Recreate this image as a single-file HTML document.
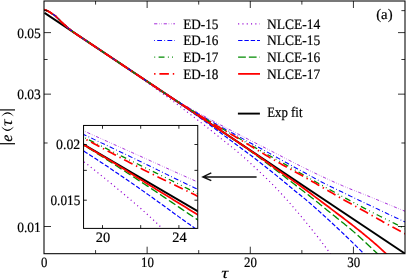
<!DOCTYPE html>
<html><head><meta charset="utf-8"><title>chart</title>
<style>
html,body{margin:0;padding:0;background:#fff;}
svg{display:block;will-change:transform;}
text{font-family:"Liberation Serif",serif;fill:#000;stroke:#000;stroke-width:0.2px;text-rendering:geometricPrecision;}
</style></head><body>
<svg width="407" height="279" viewBox="0 0 407 279">
<rect x="0" y="0" width="407" height="279" fill="#fff"/>
<defs>
<clipPath id="cm"><rect x="44.0" y="1.0" width="361.0" height="252.7"/></clipPath>
<clipPath id="ci"><rect x="83.55" y="125.45" width="114.2" height="102.95"/></clipPath>
</defs>
<g clip-path="url(#cm)">
<path d="M44.50,12.90 L407.00,254.94" stroke="#000" stroke-width="1.9" fill="none"/>
<path d="M44.00,9.52 L45.15,9.94 L46.31,10.39 L47.46,10.89 L48.62,11.47 L49.77,12.15 L50.93,12.92 L52.08,13.69 L53.24,14.46 L54.39,15.23 L55.55,16.12 L56.70,17.21 L57.86,18.36 L59.01,19.53 L60.17,20.76 L61.32,21.91 L62.48,22.98 L63.63,24.02 L64.79,25.04 L65.94,26.05 L67.10,27.06 L68.25,28.07 L69.41,29.05 L70.56,29.97 L71.72,30.85 L72.87,31.71 L74.03,32.56 L75.18,33.38 L76.34,34.16 L77.49,34.93 L78.65,35.70 L79.80,36.47 L80.96,37.24 L82.11,38.01 L83.27,38.78 L84.42,39.56 L85.58,40.33 L86.73,41.10 L87.89,41.87 L89.04,42.64 L90.20,43.41 L91.35,44.18 L92.51,44.95 L93.66,45.72 L94.81,46.50 L95.97,47.27 L97.12,48.04 L98.28,48.81 L99.43,49.58 L100.59,50.35 L101.74,51.12 L102.90,51.89 L104.05,52.66 L105.21,53.44 L106.36,54.21 L107.52,54.98 L108.67,55.75 L109.83,56.52 L110.98,57.29 L112.14,58.06 L113.29,58.83 L114.45,59.60 L115.60,60.38 L116.76,61.15 L117.91,61.92 L119.07,62.70 L120.22,63.49 L121.38,64.28 L122.53,65.07 L123.69,65.86 L124.84,66.66 L126.00,67.46 L127.15,68.27 L128.31,69.07 L129.46,69.88 L130.62,70.69 L131.77,71.50 L132.93,72.31 L134.08,73.12 L135.24,73.93 L136.39,74.74 L137.55,75.55 L138.70,76.37 L139.86,77.19 L141.01,78.02 L142.16,78.85 L143.32,79.68 L144.47,80.52 L145.63,81.35 L146.78,82.18 L147.94,83.01 L149.09,83.83 L150.25,84.66 L151.40,85.49 L152.56,86.31 L153.71,87.14 L154.87,87.97 L156.02,88.79 L157.18,89.62 L158.33,90.45 L159.49,91.27 L160.64,92.10 L161.80,92.92 L162.95,93.74 L164.11,94.57 L165.26,95.40 L166.42,96.23 L167.57,97.06 L168.73,97.91 L169.88,98.75 L171.04,99.61 L172.19,100.46 L173.35,101.33 L174.50,102.19 L175.66,103.06 L176.81,103.93 L177.97,104.80 L179.12,105.68 L180.28,106.57 L181.43,107.46 L182.59,108.36 L183.74,109.26 L184.90,110.16 L186.05,111.06 L187.21,111.96 L188.36,112.85 L189.52,113.74 L190.67,114.63 L191.82,115.52 L192.98,116.40 L194.13,117.29 L195.29,118.17 L196.44,119.06 L197.60,119.94 L198.75,120.83 L199.91,121.72 L201.06,122.61 L202.22,123.51 L203.37,124.41 L204.53,125.31 L205.68,126.22 L206.84,127.12 L207.99,128.04 L209.15,128.95 L210.30,129.87 L211.46,130.79 L212.61,131.72 L213.77,132.65 L214.92,133.58 L216.08,134.51 L217.23,135.44 L218.39,136.37 L219.54,137.30 L220.70,138.23 L221.85,139.15 L223.01,140.08 L224.16,141.00 L225.32,141.91 L226.47,142.83 L227.63,143.75 L228.78,144.67 L229.94,145.59 L231.09,146.52 L232.25,147.45 L233.40,148.38 L234.56,149.32 L235.71,150.26 L236.87,151.22 L238.02,152.18 L239.17,153.14 L240.33,154.12 L241.48,155.12 L242.64,156.13 L243.79,157.16 L244.95,158.21 L246.10,159.26 L247.26,160.32 L248.41,161.38 L249.57,162.44 L250.72,163.51 L251.88,164.57 L253.03,165.65 L254.19,166.72 L255.34,167.81 L256.50,168.90 L257.65,169.99 L258.81,171.08 L259.96,172.18 L261.12,173.28 L262.27,174.38 L263.43,175.49 L264.58,176.59 L265.74,177.70 L266.89,178.82 L268.05,179.94 L269.20,181.07 L270.36,182.22 L271.51,183.38 L272.67,184.55 L273.82,185.73 L274.98,186.92 L276.13,188.13 L277.29,189.34 L278.44,190.57 L279.60,191.80 L280.75,193.05 L281.91,194.30 L283.06,195.56 L284.22,196.84 L285.37,198.12 L286.53,199.41 L287.68,200.71 L288.83,202.02 L289.99,203.33 L291.14,204.66 L292.30,205.99 L293.45,207.32 L294.61,208.67 L295.76,210.02 L296.92,211.37 L298.07,212.73 L299.23,214.09 L300.38,215.46 L301.54,216.83 L302.69,218.22 L303.85,219.61 L305.00,221.02 L306.16,222.43 L307.31,223.84 L308.47,225.27 L309.62,226.71 L310.78,228.15 L311.93,229.59 L313.09,231.05 L314.24,232.51 L315.40,233.98 L316.55,235.45 L317.71,236.93 L318.86,238.42 L320.02,239.91 L321.17,241.41 L322.33,242.92 L323.48,244.44 L324.64,245.97 L325.79,247.51 L326.95,249.06 L328.10,250.63 L329.26,252.20 L330.41,253.79 L331.57,255.40 L332.72,257.02 L333.88,258.66 L335.03,260.31 L336.18,261.98 L337.34,263.67 L338.49,265.37 L339.65,267.08 L340.80,268.80 L341.96,270.54 L343.11,272.28" stroke="#9400D3" stroke-width="1.20" fill="none" stroke-dasharray="1.1 3.2"/>
<path d="M44.00,9.52 L45.27,9.99 L46.55,10.49 L47.82,11.06 L49.10,11.74 L50.37,12.55 L51.65,13.40 L52.92,14.25 L54.19,15.10 L55.47,16.05 L56.74,17.25 L58.02,18.52 L59.29,19.83 L60.57,21.17 L61.84,22.39 L63.12,23.56 L64.39,24.69 L65.66,25.81 L66.94,26.92 L68.21,28.04 L69.49,29.12 L70.76,30.12 L72.04,31.09 L73.31,32.04 L74.58,32.96 L75.86,33.84 L77.13,34.69 L78.41,35.54 L79.68,36.39 L80.96,37.24 L82.23,38.09 L83.50,38.94 L84.78,39.79 L86.05,40.65 L87.33,41.50 L88.60,42.35 L89.88,43.20 L91.15,44.05 L92.43,44.90 L93.70,45.75 L94.97,46.60 L96.25,47.45 L97.52,48.30 L98.80,49.15 L100.07,50.01 L101.35,50.86 L102.62,51.71 L103.89,52.56 L105.17,53.41 L106.44,54.26 L107.72,55.11 L108.99,55.96 L110.27,56.81 L111.54,57.66 L112.82,58.51 L114.09,59.36 L115.36,60.22 L116.64,61.07 L117.91,61.92 L119.19,62.77 L120.46,63.62 L121.74,64.47 L123.01,65.32 L124.28,66.17 L125.56,67.02 L126.83,67.87 L128.11,68.72 L129.38,69.58 L130.66,70.43 L131.93,71.28 L133.20,72.13 L134.48,72.98 L135.75,73.83 L137.03,74.68 L138.30,75.53 L139.58,76.38 L140.85,77.23 L142.13,78.08 L143.40,78.94 L144.67,79.79 L145.95,80.64 L147.22,81.49 L148.50,82.34 L149.77,83.19 L151.05,84.05 L152.32,84.90 L153.59,85.76 L154.87,86.62 L156.14,87.48 L157.42,88.34 L158.69,89.20 L159.97,90.06 L161.24,90.92 L162.51,91.79 L163.79,92.65 L165.06,93.52 L166.34,94.38 L167.61,95.25 L168.89,96.12 L170.16,96.99 L171.44,97.85 L172.71,98.72 L173.98,99.59 L175.26,100.46 L176.53,101.33 L177.81,102.20 L179.08,103.08 L180.36,103.95 L181.63,104.83 L182.90,105.72 L184.18,106.61 L185.45,107.50 L186.73,108.39 L188.00,109.29 L189.28,110.19 L190.55,111.09 L191.82,111.99 L193.10,112.90 L194.37,113.81 L195.65,114.72 L196.92,115.63 L198.20,116.54 L199.47,117.46 L200.75,118.37 L202.02,119.28 L203.29,120.20 L204.57,121.11 L205.84,122.03 L207.12,122.96 L208.39,123.89 L209.67,124.82 L210.94,125.76 L212.21,126.70 L213.49,127.64 L214.76,128.58 L216.04,129.52 L217.31,130.47 L218.59,131.41 L219.86,132.35 L221.13,133.29 L222.41,134.24 L223.68,135.18 L224.96,136.13 L226.23,137.07 L227.51,138.02 L228.78,138.97 L230.06,139.92 L231.33,140.87 L232.60,141.82 L233.88,142.77 L235.15,143.72 L236.43,144.67 L237.70,145.62 L238.98,146.57 L240.25,147.52 L241.52,148.47 L242.80,149.42 L244.07,150.36 L245.35,151.31 L246.62,152.25 L247.90,153.21 L249.17,154.16 L250.45,155.12 L251.72,156.09 L252.99,157.06 L254.27,158.04 L255.54,159.02 L256.82,160.00 L258.09,160.99 L259.37,161.98 L260.64,162.97 L261.91,163.97 L263.19,164.97 L264.46,165.97 L265.74,166.97 L267.01,167.98 L268.29,168.99 L269.56,170.00 L270.83,171.01 L272.11,172.03 L273.38,173.05 L274.66,174.08 L275.93,175.12 L277.21,176.15 L278.48,177.19 L279.76,178.24 L281.03,179.28 L282.30,180.33 L283.58,181.38 L284.85,182.43 L286.13,183.49 L287.40,184.56 L288.68,185.62 L289.95,186.69 L291.22,187.76 L292.50,188.82 L293.77,189.87 L295.05,190.91 L296.32,191.94 L297.60,192.97 L298.87,193.99 L300.14,195.01 L301.42,196.04 L302.69,197.07 L303.97,198.11 L305.24,199.16 L306.52,200.22 L307.79,201.30 L309.07,202.38 L310.34,203.48 L311.61,204.59 L312.89,205.71 L314.16,206.83 L315.44,207.96 L316.71,209.10 L317.99,210.24 L319.26,211.39 L320.53,212.53 L321.81,213.68 L323.08,214.83 L324.36,215.98 L325.63,217.15 L326.91,218.32 L328.18,219.49 L329.45,220.66 L330.73,221.84 L332.00,223.01 L333.28,224.19 L334.55,225.38 L335.83,226.56 L337.10,227.75 L338.38,228.95 L339.65,230.15 L340.92,231.36 L342.20,232.57 L343.47,233.78 L344.75,235.00 L346.02,236.23 L347.30,237.45 L348.57,238.69 L349.84,239.92 L351.12,241.15 L352.39,242.39 L353.67,243.64 L354.94,244.88 L356.22,246.13 L357.49,247.38 L358.76,248.63 L360.04,249.89 L361.31,251.15 L362.59,252.41 L363.86,253.68 L365.14,254.94 L366.41,256.22 L367.69,257.50 L368.96,258.78 L370.23,260.07 L371.51,261.36 L372.78,262.65 L374.06,263.95" stroke="#0000FF" stroke-width="1.20" fill="none" stroke-dasharray="4.4 1.9"/>
<path d="M44.00,9.52 L45.33,10.01 L46.67,10.54 L48.00,11.15 L49.34,11.88 L50.67,12.75 L52.00,13.64 L53.34,14.52 L54.67,15.42 L56.01,16.54 L57.34,17.85 L58.67,19.18 L60.01,20.59 L61.34,21.93 L62.68,23.16 L64.01,24.36 L65.35,25.53 L66.68,26.69 L68.01,27.87 L69.35,29.00 L70.68,30.06 L72.02,31.07 L73.35,32.06 L74.68,33.03 L76.02,33.94 L77.35,34.84 L78.69,35.73 L80.02,36.62 L81.35,37.51 L82.69,38.40 L84.02,39.29 L85.36,40.18 L86.69,41.07 L88.02,41.96 L89.36,42.85 L90.69,43.74 L92.03,44.63 L93.36,45.52 L94.70,46.42 L96.03,47.31 L97.36,48.20 L98.70,49.09 L100.03,49.98 L101.37,50.87 L102.70,51.76 L104.03,52.65 L105.37,53.54 L106.70,54.43 L108.04,55.32 L109.37,56.21 L110.70,57.10 L112.04,58.00 L113.37,58.89 L114.71,59.78 L116.04,60.67 L117.37,61.56 L118.71,62.45 L120.04,63.34 L121.38,64.23 L122.71,65.12 L124.05,66.01 L125.38,66.90 L126.71,67.79 L128.05,68.68 L129.38,69.58 L130.72,70.47 L132.05,71.36 L133.38,72.25 L134.72,73.14 L136.05,74.03 L137.39,74.92 L138.72,75.81 L140.05,76.70 L141.39,77.59 L142.72,78.48 L144.06,79.37 L145.39,80.26 L146.72,81.16 L148.06,82.05 L149.39,82.94 L150.73,83.83 L152.06,84.72 L153.40,85.61 L154.73,86.50 L156.06,87.39 L157.40,88.28 L158.73,89.17 L160.07,90.06 L161.40,90.95 L162.73,91.84 L164.07,92.74 L165.40,93.63 L166.74,94.52 L168.07,95.41 L169.40,96.30 L170.74,97.19 L172.07,98.08 L173.41,98.97 L174.74,99.86 L176.07,100.75 L177.41,101.64 L178.74,102.53 L180.08,103.42 L181.41,104.32 L182.75,105.21 L184.08,106.10 L185.41,106.99 L186.75,107.88 L188.08,108.77 L189.42,109.66 L190.75,110.55 L192.08,111.44 L193.42,112.33 L194.75,113.22 L196.09,114.11 L197.42,115.00 L198.75,115.90 L200.09,116.79 L201.42,117.68 L202.76,118.57 L204.09,119.47 L205.42,120.36 L206.76,121.26 L208.09,122.16 L209.43,123.05 L210.76,123.95 L212.09,124.85 L213.43,125.75 L214.76,126.65 L216.10,127.56 L217.43,128.46 L218.77,129.36 L220.10,130.27 L221.43,131.17 L222.77,132.08 L224.10,132.99 L225.44,133.89 L226.77,134.80 L228.10,135.71 L229.44,136.62 L230.77,137.53 L232.11,138.44 L233.44,139.35 L234.77,140.26 L236.11,141.17 L237.44,142.09 L238.78,143.00 L240.11,143.91 L241.44,144.83 L242.78,145.76 L244.11,146.69 L245.45,147.63 L246.78,148.57 L248.12,149.52 L249.45,150.48 L250.78,151.44 L252.12,152.41 L253.45,153.38 L254.79,154.36 L256.12,155.34 L257.45,156.32 L258.79,157.30 L260.12,158.29 L261.46,159.28 L262.79,160.28 L264.12,161.27 L265.46,162.27 L266.79,163.27 L268.13,164.26 L269.46,165.26 L270.79,166.26 L272.13,167.26 L273.46,168.25 L274.80,169.25 L276.13,170.25 L277.47,171.25 L278.80,172.26 L280.13,173.27 L281.47,174.29 L282.80,175.31 L284.14,176.34 L285.47,177.36 L286.80,178.39 L288.14,179.43 L289.47,180.46 L290.81,181.49 L292.14,182.53 L293.47,183.56 L294.81,184.60 L296.14,185.63 L297.48,186.66 L298.81,187.69 L300.14,188.72 L301.48,189.75 L302.81,190.77 L304.15,191.78 L305.48,192.80 L306.82,193.81 L308.15,194.84 L309.48,195.88 L310.82,196.92 L312.15,197.98 L313.49,199.05 L314.82,200.12 L316.15,201.20 L317.49,202.28 L318.82,203.37 L320.16,204.45 L321.49,205.54 L322.82,206.63 L324.16,207.72 L325.49,208.81 L326.83,209.89 L328.16,210.97 L329.49,212.05 L330.83,213.12 L332.16,214.18 L333.50,215.25 L334.83,216.31 L336.17,217.37 L337.50,218.43 L338.83,219.50 L340.17,220.57 L341.50,221.64 L342.84,222.71 L344.17,223.80 L345.50,224.89 L346.84,225.98 L348.17,227.09 L349.51,228.21 L350.84,229.33 L352.17,230.47 L353.51,231.63 L354.84,232.79 L356.18,233.97 L357.51,235.15 L358.84,236.35 L360.18,237.55 L361.51,238.77 L362.85,239.99 L364.18,241.22 L365.52,242.46 L366.85,243.70 L368.18,244.95 L369.52,246.21 L370.85,247.47 L372.19,248.73 L373.52,250.00 L374.85,251.27 L376.19,252.54 L377.52,253.82 L378.86,255.10 L380.19,256.40 L381.52,257.71 L382.86,259.03 L384.19,260.37 L385.53,261.71 L386.86,263.06 L388.19,264.42 L389.53,265.78" stroke="#008B00" stroke-width="1.30" fill="none" stroke-dasharray="7.75 3.0"/>
<path d="M44.00,9.52 L45.35,10.02 L46.71,10.56 L48.06,11.18 L49.42,11.93 L50.77,12.81 L52.12,13.71 L53.48,14.62 L54.83,15.54 L56.19,16.71 L57.54,18.05 L58.89,19.41 L60.25,20.85 L61.60,22.17 L62.96,23.42 L64.31,24.62 L65.66,25.81 L67.02,26.99 L68.37,28.18 L69.73,29.31 L71.08,30.36 L72.43,31.39 L73.79,32.39 L75.14,33.35 L76.50,34.26 L77.85,35.17 L79.20,36.07 L80.56,36.98 L81.91,37.88 L83.27,38.78 L84.62,39.69 L85.97,40.59 L87.33,41.50 L88.68,42.40 L90.04,43.30 L91.39,44.21 L92.74,45.11 L94.10,46.02 L95.45,46.92 L96.81,47.82 L98.16,48.73 L99.51,49.63 L100.87,50.54 L102.22,51.44 L103.58,52.35 L104.93,53.25 L106.28,54.15 L107.64,55.06 L108.99,55.96 L110.35,56.87 L111.70,57.77 L113.05,58.67 L114.41,59.58 L115.76,60.48 L117.12,61.39 L118.47,62.29 L119.82,63.19 L121.18,64.10 L122.53,65.00 L123.89,65.91 L125.24,66.81 L126.59,67.71 L127.95,68.62 L129.30,69.52 L130.66,70.43 L132.01,71.33 L133.36,72.23 L134.72,73.14 L136.07,74.04 L137.43,74.95 L138.78,75.85 L140.13,76.75 L141.49,77.66 L142.84,78.56 L144.20,79.47 L145.55,80.37 L146.90,81.28 L148.26,82.18 L149.61,83.08 L150.97,83.99 L152.32,84.89 L153.67,85.80 L155.03,86.70 L156.38,87.60 L157.74,88.51 L159.09,89.41 L160.44,90.32 L161.80,91.22 L163.15,92.12 L164.51,93.03 L165.86,93.93 L167.21,94.84 L168.57,95.74 L169.92,96.64 L171.28,97.55 L172.63,98.45 L173.98,99.36 L175.34,100.26 L176.69,101.16 L178.05,102.07 L179.40,102.97 L180.75,103.88 L182.11,104.78 L183.46,105.68 L184.82,106.59 L186.17,107.49 L187.52,108.40 L188.88,109.30 L190.23,110.21 L191.59,111.11 L192.94,112.01 L194.29,112.92 L195.65,113.82 L197.00,114.73 L198.36,115.63 L199.71,116.53 L201.06,117.44 L202.42,118.34 L203.77,119.25 L205.13,120.15 L206.48,121.05 L207.83,121.96 L209.19,122.86 L210.54,123.77 L211.90,124.67 L213.25,125.57 L214.60,126.48 L215.96,127.38 L217.31,128.29 L218.67,129.19 L220.02,130.09 L221.37,131.00 L222.73,131.91 L224.08,132.81 L225.44,133.72 L226.79,134.63 L228.14,135.54 L229.50,136.45 L230.85,137.36 L232.21,138.27 L233.56,139.18 L234.91,140.10 L236.27,141.01 L237.62,141.92 L238.98,142.84 L240.33,143.75 L241.68,144.67 L243.04,145.59 L244.39,146.50 L245.75,147.42 L247.10,148.34 L248.45,149.26 L249.81,150.18 L251.16,151.10 L252.52,152.03 L253.87,152.96 L255.22,153.91 L256.58,154.86 L257.93,155.81 L259.29,156.77 L260.64,157.73 L261.99,158.70 L263.35,159.67 L264.70,160.64 L266.06,161.61 L267.41,162.58 L268.76,163.56 L270.12,164.53 L271.47,165.50 L272.83,166.47 L274.18,167.43 L275.53,168.40 L276.89,169.36 L278.24,170.31 L279.60,171.26 L280.95,172.22 L282.30,173.16 L283.66,174.11 L285.01,175.06 L286.37,176.00 L287.72,176.95 L289.07,177.90 L290.43,178.84 L291.78,179.79 L293.14,180.74 L294.49,181.70 L295.84,182.65 L297.20,183.61 L298.55,184.57 L299.91,185.54 L301.26,186.51 L302.61,187.48 L303.97,188.48 L305.32,189.48 L306.68,190.49 L308.03,191.51 L309.38,192.53 L310.74,193.55 L312.09,194.56 L313.45,195.58 L314.80,196.59 L316.15,197.61 L317.51,198.63 L318.86,199.64 L320.22,200.66 L321.57,201.68 L322.92,202.70 L324.28,203.72 L325.63,204.74 L326.99,205.77 L328.34,206.79 L329.69,207.81 L331.05,208.84 L332.40,209.86 L333.76,210.88 L335.11,211.91 L336.46,212.93 L337.82,213.95 L339.17,214.98 L340.53,216.01 L341.88,217.04 L343.23,218.07 L344.59,219.10 L345.94,220.13 L347.30,221.17 L348.65,222.21 L350.00,223.26 L351.36,224.31 L352.71,225.36 L354.07,226.42 L355.42,227.49 L356.77,228.57 L358.13,229.64 L359.48,230.72 L360.84,231.80 L362.19,232.89 L363.54,233.99 L364.90,235.09 L366.25,236.20 L367.61,237.32 L368.96,238.45 L370.31,239.59 L371.67,240.75 L373.02,241.91 L374.38,243.09 L375.73,244.27 L377.08,245.47 L378.44,246.67 L379.79,247.88 L381.15,249.10 L382.50,250.32 L383.85,251.55 L385.21,252.79 L386.56,254.03 L387.92,255.28 L389.27,256.54 L390.62,257.82 L391.98,259.11 L393.33,260.41 L394.69,261.72" stroke="#FF0000" stroke-width="1.75" fill="none"/>
<path d="M44.00,9.52 L45.40,10.04 L46.80,10.60 L48.21,11.25 L49.61,12.05 L51.01,12.97 L52.41,13.91 L53.81,14.84 L55.21,15.84 L56.62,17.13 L58.02,18.52 L59.42,19.97 L60.82,21.43 L62.22,22.75 L63.63,24.02 L65.03,25.25 L66.43,26.47 L67.83,27.71 L69.23,28.91 L70.63,30.03 L72.04,31.09 L73.44,32.13 L74.84,33.14 L76.24,34.09 L77.64,35.03 L79.04,35.97 L80.45,36.90 L81.85,37.84 L83.25,38.77 L84.65,39.71 L86.05,40.65 L87.46,41.58 L88.86,42.52 L90.26,43.45 L91.66,44.39 L93.06,45.33 L94.46,46.26 L95.87,47.20 L97.27,48.13 L98.67,49.07 L100.07,50.01 L101.47,50.94 L102.88,51.88 L104.28,52.81 L105.68,53.75 L107.08,54.68 L108.48,55.62 L109.88,56.56 L111.29,57.49 L112.69,58.43 L114.09,59.36 L115.49,60.30 L116.89,61.24 L118.29,62.17 L119.70,63.11 L121.10,64.04 L122.50,64.98 L123.90,65.92 L125.30,66.85 L126.71,67.79 L128.11,68.72 L129.51,69.66 L130.91,70.60 L132.31,71.53 L133.71,72.47 L135.12,73.40 L136.52,74.34 L137.92,75.28 L139.32,76.21 L140.72,77.15 L142.13,78.08 L143.53,79.02 L144.93,79.96 L146.33,80.89 L147.73,81.83 L149.13,82.76 L150.54,83.69 L151.94,84.62 L153.34,85.55 L154.74,86.48 L156.14,87.41 L157.54,88.33 L158.95,89.25 L160.35,90.18 L161.75,91.10 L163.15,92.02 L164.55,92.93 L165.96,93.82 L167.36,94.71 L168.76,95.59 L170.16,96.46 L171.56,97.32 L172.96,98.18 L174.37,99.03 L175.77,99.89 L177.17,100.74 L178.57,101.59 L179.97,102.43 L181.38,103.27 L182.78,104.10 L184.18,104.92 L185.58,105.74 L186.98,106.55 L188.38,107.35 L189.79,108.15 L191.19,108.95 L192.59,109.74 L193.99,110.52 L195.39,111.31 L196.79,112.09 L198.20,112.87 L199.60,113.65 L201.00,114.42 L202.40,115.20 L203.80,115.97 L205.21,116.75 L206.61,117.52 L208.01,118.28 L209.41,119.04 L210.81,119.80 L212.21,120.55 L213.62,121.30 L215.02,122.04 L216.42,122.78 L217.82,123.52 L219.22,124.26 L220.63,124.99 L222.03,125.72 L223.43,126.45 L224.83,127.18 L226.23,127.91 L227.63,128.63 L229.04,129.36 L230.44,130.08 L231.84,130.81 L233.24,131.53 L234.64,132.26 L236.04,132.98 L237.45,133.71 L238.85,134.43 L240.25,135.16 L241.65,135.89 L243.05,136.61 L244.46,137.34 L245.86,138.06 L247.26,138.78 L248.66,139.50 L250.06,140.22 L251.46,140.94 L252.87,141.66 L254.27,142.37 L255.67,143.09 L257.07,143.81 L258.47,144.52 L259.88,145.24 L261.28,145.95 L262.68,146.67 L264.08,147.38 L265.48,148.10 L266.88,148.81 L268.29,149.53 L269.69,150.25 L271.09,150.97 L272.49,151.69 L273.89,152.41 L275.29,153.13 L276.70,153.85 L278.10,154.58 L279.50,155.31 L280.90,156.03 L282.30,156.76 L283.71,157.48 L285.11,158.21 L286.51,158.93 L287.91,159.66 L289.31,160.38 L290.71,161.10 L292.12,161.82 L293.52,162.53 L294.92,163.25 L296.32,163.96 L297.72,164.67 L299.13,165.37 L300.53,166.08 L301.93,166.77 L303.33,167.47 L304.73,168.16 L306.13,168.85 L307.54,169.54 L308.94,170.22 L310.34,170.91 L311.74,171.59 L313.14,172.27 L314.54,172.94 L315.95,173.62 L317.35,174.29 L318.75,174.95 L320.15,175.62 L321.55,176.28 L322.96,176.94 L324.36,177.59 L325.76,178.25 L327.16,178.90 L328.56,179.54 L329.96,180.19 L331.37,180.83 L332.77,181.46 L334.17,182.09 L335.57,182.71 L336.97,183.33 L338.38,183.94 L339.78,184.55 L341.18,185.15 L342.58,185.74 L343.98,186.34 L345.38,186.92 L346.79,187.51 L348.19,188.09 L349.59,188.67 L350.99,189.24 L352.39,189.80 L353.79,190.35 L355.20,190.90 L356.60,191.45 L358.00,191.99 L359.40,192.54 L360.80,193.09 L362.21,193.64 L363.61,194.20 L365.01,194.77 L366.41,195.34 L367.81,195.91 L369.21,196.48 L370.62,197.05 L372.02,197.63 L373.42,198.20 L374.82,198.78 L376.22,199.36 L377.63,199.94 L379.03,200.52 L380.43,201.10 L381.83,201.68 L383.23,202.26 L384.63,202.85 L386.04,203.43 L387.44,204.01 L388.84,204.59 L390.24,205.17 L391.64,205.76 L393.04,206.34 L394.45,206.92 L395.85,207.50 L397.25,208.08 L398.65,208.65 L400.05,209.23 L401.46,209.80 L402.86,210.38 L404.26,210.95 L405.66,211.52 L407.06,212.08" stroke="#9400D3" stroke-width="0.85" fill="none" stroke-dasharray="3.2 1.8 0.5 1.8 0.5 1.8"/>
<path d="M44.00,9.52 L45.40,10.04 L46.80,10.60 L48.21,11.25 L49.61,12.05 L51.01,12.97 L52.41,13.91 L53.81,14.84 L55.21,15.84 L56.62,17.13 L58.02,18.52 L59.42,19.97 L60.82,21.43 L62.22,22.75 L63.63,24.02 L65.03,25.25 L66.43,26.47 L67.83,27.71 L69.23,28.91 L70.63,30.03 L72.04,31.09 L73.44,32.13 L74.84,33.14 L76.24,34.09 L77.64,35.03 L79.04,35.97 L80.45,36.90 L81.85,37.84 L83.25,38.77 L84.65,39.71 L86.05,40.65 L87.46,41.58 L88.86,42.52 L90.26,43.45 L91.66,44.39 L93.06,45.33 L94.46,46.26 L95.87,47.20 L97.27,48.13 L98.67,49.07 L100.07,50.01 L101.47,50.94 L102.88,51.88 L104.28,52.81 L105.68,53.75 L107.08,54.68 L108.48,55.62 L109.88,56.56 L111.29,57.49 L112.69,58.43 L114.09,59.36 L115.49,60.30 L116.89,61.24 L118.29,62.17 L119.70,63.11 L121.10,64.04 L122.50,64.98 L123.90,65.92 L125.30,66.85 L126.71,67.79 L128.11,68.72 L129.51,69.66 L130.91,70.60 L132.31,71.53 L133.71,72.47 L135.12,73.40 L136.52,74.34 L137.92,75.28 L139.32,76.21 L140.72,77.15 L142.13,78.08 L143.53,79.02 L144.93,79.96 L146.33,80.89 L147.73,81.83 L149.13,82.76 L150.54,83.70 L151.94,84.63 L153.34,85.56 L154.74,86.49 L156.14,87.43 L157.54,88.36 L158.95,89.29 L160.35,90.21 L161.75,91.14 L163.15,92.07 L164.55,92.99 L165.96,93.90 L167.36,94.81 L168.76,95.71 L170.16,96.60 L171.56,97.49 L172.96,98.37 L174.37,99.26 L175.77,100.14 L177.17,101.02 L178.57,101.90 L179.97,102.78 L181.38,103.65 L182.78,104.51 L184.18,105.37 L185.58,106.23 L186.98,107.08 L188.38,107.93 L189.79,108.77 L191.19,109.62 L192.59,110.45 L193.99,111.29 L195.39,112.12 L196.79,112.95 L198.20,113.78 L199.60,114.60 L201.00,115.43 L202.40,116.25 L203.80,117.07 L205.21,117.89 L206.61,118.71 L208.01,119.51 L209.41,120.32 L210.81,121.12 L212.21,121.91 L213.62,122.70 L215.02,123.49 L216.42,124.27 L217.82,125.05 L219.22,125.83 L220.63,126.61 L222.03,127.38 L223.43,128.15 L224.83,128.92 L226.23,129.69 L227.63,130.46 L229.04,131.23 L230.44,131.99 L231.84,132.76 L233.24,133.52 L234.64,134.29 L236.04,135.06 L237.45,135.83 L238.85,136.60 L240.25,137.37 L241.65,138.14 L243.05,138.91 L244.46,139.67 L245.86,140.44 L247.26,141.20 L248.66,141.96 L250.06,142.72 L251.46,143.48 L252.87,144.24 L254.27,145.00 L255.67,145.75 L257.07,146.51 L258.47,147.27 L259.88,148.03 L261.28,148.79 L262.68,149.56 L264.08,150.32 L265.48,151.09 L266.88,151.85 L268.29,152.62 L269.69,153.40 L271.09,154.17 L272.49,154.96 L273.89,155.74 L275.29,156.53 L276.70,157.32 L278.10,158.11 L279.50,158.90 L280.90,159.68 L282.30,160.46 L283.71,161.24 L285.11,162.02 L286.51,162.80 L287.91,163.57 L289.31,164.35 L290.71,165.12 L292.12,165.90 L293.52,166.67 L294.92,167.44 L296.32,168.21 L297.72,168.98 L299.13,169.75 L300.53,170.51 L301.93,171.28 L303.33,172.04 L304.73,172.81 L306.13,173.58 L307.54,174.34 L308.94,175.11 L310.34,175.88 L311.74,176.64 L313.14,177.41 L314.54,178.17 L315.95,178.93 L317.35,179.69 L318.75,180.44 L320.15,181.19 L321.55,181.93 L322.96,182.67 L324.36,183.40 L325.76,184.13 L327.16,184.85 L328.56,185.55 L329.96,186.24 L331.37,186.92 L332.77,187.59 L334.17,188.26 L335.57,188.92 L336.97,189.58 L338.38,190.25 L339.78,190.92 L341.18,191.59 L342.58,192.27 L343.98,192.95 L345.38,193.63 L346.79,194.31 L348.19,194.99 L349.59,195.68 L350.99,196.36 L352.39,197.04 L353.79,197.71 L355.20,198.39 L356.60,199.07 L358.00,199.74 L359.40,200.41 L360.80,201.08 L362.21,201.75 L363.61,202.41 L365.01,203.08 L366.41,203.74 L367.81,204.41 L369.21,205.07 L370.62,205.74 L372.02,206.40 L373.42,207.07 L374.82,207.74 L376.22,208.40 L377.63,209.06 L379.03,209.73 L380.43,210.39 L381.83,211.06 L383.23,211.72 L384.63,212.38 L386.04,213.04 L387.44,213.71 L388.84,214.37 L390.24,215.03 L391.64,215.69 L393.04,216.34 L394.45,217.00 L395.85,217.66 L397.25,218.31 L398.65,218.97 L400.05,219.62 L401.46,220.28 L402.86,220.93 L404.26,221.58 L405.66,222.23 L407.06,222.88" stroke="#0000FF" stroke-width="1.05" fill="none" stroke-dasharray="4.8 2.3 0.8 2.3"/>
<path d="M44.00,9.52 L45.40,10.04 L46.80,10.60 L48.21,11.25 L49.61,12.05 L51.01,12.97 L52.41,13.91 L53.81,14.84 L55.21,15.84 L56.62,17.13 L58.02,18.52 L59.42,19.97 L60.82,21.43 L62.22,22.75 L63.63,24.02 L65.03,25.25 L66.43,26.47 L67.83,27.71 L69.23,28.91 L70.63,30.03 L72.04,31.09 L73.44,32.13 L74.84,33.14 L76.24,34.09 L77.64,35.03 L79.04,35.97 L80.45,36.90 L81.85,37.84 L83.25,38.77 L84.65,39.71 L86.05,40.65 L87.46,41.58 L88.86,42.52 L90.26,43.45 L91.66,44.39 L93.06,45.33 L94.46,46.26 L95.87,47.20 L97.27,48.13 L98.67,49.07 L100.07,50.01 L101.47,50.94 L102.88,51.88 L104.28,52.81 L105.68,53.75 L107.08,54.68 L108.48,55.62 L109.88,56.56 L111.29,57.49 L112.69,58.43 L114.09,59.36 L115.49,60.30 L116.89,61.24 L118.29,62.17 L119.70,63.11 L121.10,64.04 L122.50,64.98 L123.90,65.92 L125.30,66.85 L126.71,67.79 L128.11,68.72 L129.51,69.66 L130.91,70.60 L132.31,71.53 L133.71,72.47 L135.12,73.40 L136.52,74.34 L137.92,75.28 L139.32,76.21 L140.72,77.15 L142.13,78.08 L143.53,79.02 L144.93,79.96 L146.33,80.89 L147.73,81.83 L149.13,82.76 L150.54,83.70 L151.94,84.64 L153.34,85.57 L154.74,86.51 L156.14,87.44 L157.54,88.38 L158.95,89.32 L160.35,90.25 L161.75,91.19 L163.15,92.12 L164.55,93.05 L165.96,93.97 L167.36,94.89 L168.76,95.80 L170.16,96.71 L171.56,97.61 L172.96,98.51 L174.37,99.41 L175.77,100.31 L177.17,101.21 L178.57,102.11 L179.97,103.00 L181.38,103.89 L182.78,104.78 L184.18,105.66 L185.58,106.55 L186.98,107.42 L188.38,108.30 L189.79,109.17 L191.19,110.04 L192.59,110.90 L193.99,111.77 L195.39,112.63 L196.79,113.49 L198.20,114.35 L199.60,115.21 L201.00,116.06 L202.40,116.92 L203.80,117.77 L205.21,118.62 L206.61,119.47 L208.01,120.31 L209.41,121.15 L210.81,121.99 L212.21,122.82 L213.62,123.65 L215.02,124.48 L216.42,125.30 L217.82,126.12 L219.22,126.94 L220.63,127.76 L222.03,128.57 L223.43,129.38 L224.83,130.20 L226.23,131.01 L227.63,131.81 L229.04,132.62 L230.44,133.43 L231.84,134.24 L233.24,135.04 L234.64,135.85 L236.04,136.65 L237.45,137.46 L238.85,138.27 L240.25,139.08 L241.65,139.88 L243.05,140.69 L244.46,141.50 L245.86,142.30 L247.26,143.10 L248.66,143.90 L250.06,144.70 L251.46,145.50 L252.87,146.30 L254.27,147.10 L255.67,147.89 L257.07,148.69 L258.47,149.48 L259.88,150.27 L261.28,151.06 L262.68,151.85 L264.08,152.64 L265.48,153.43 L266.88,154.22 L268.29,155.00 L269.69,155.79 L271.09,156.57 L272.49,157.36 L273.89,158.13 L275.29,158.90 L276.70,159.67 L278.10,160.44 L279.50,161.22 L280.90,161.99 L282.30,162.78 L283.71,163.57 L285.11,164.36 L286.51,165.15 L287.91,165.95 L289.31,166.75 L290.71,167.55 L292.12,168.36 L293.52,169.16 L294.92,169.96 L296.32,170.77 L297.72,171.57 L299.13,172.38 L300.53,173.18 L301.93,173.98 L303.33,174.78 L304.73,175.58 L306.13,176.38 L307.54,177.19 L308.94,177.99 L310.34,178.79 L311.74,179.58 L313.14,180.37 L314.54,181.16 L315.95,181.95 L317.35,182.73 L318.75,183.52 L320.15,184.30 L321.55,185.08 L322.96,185.86 L324.36,186.64 L325.76,187.41 L327.16,188.19 L328.56,188.96 L329.96,189.74 L331.37,190.51 L332.77,191.28 L334.17,192.05 L335.57,192.82 L336.97,193.59 L338.38,194.36 L339.78,195.12 L341.18,195.88 L342.58,196.64 L343.98,197.40 L345.38,198.16 L346.79,198.91 L348.19,199.66 L349.59,200.40 L350.99,201.15 L352.39,201.89 L353.79,202.64 L355.20,203.38 L356.60,204.12 L358.00,204.86 L359.40,205.61 L360.80,206.35 L362.21,207.09 L363.61,207.84 L365.01,208.58 L366.41,209.32 L367.81,210.05 L369.21,210.79 L370.62,211.52 L372.02,212.24 L373.42,212.96 L374.82,213.67 L376.22,214.37 L377.63,215.06 L379.03,215.75 L380.43,216.44 L381.83,217.12 L383.23,217.81 L384.63,218.50 L386.04,219.19 L387.44,219.88 L388.84,220.58 L390.24,221.28 L391.64,221.99 L393.04,222.69 L394.45,223.39 L395.85,224.10 L397.25,224.80 L398.65,225.51 L400.05,226.22 L401.46,226.93 L402.86,227.64 L404.26,228.35 L405.66,229.07 L407.06,229.78" stroke="#008B00" stroke-width="1.25" fill="none" stroke-dasharray="5.9 3.4 0.9 3.3 0.9 3.4"/>
<path d="M44.00,9.52 L45.40,10.04 L46.80,10.60 L48.21,11.25 L49.61,12.05 L51.01,12.97 L52.41,13.91 L53.81,14.84 L55.21,15.84 L56.62,17.13 L58.02,18.52 L59.42,19.97 L60.82,21.43 L62.22,22.75 L63.63,24.02 L65.03,25.25 L66.43,26.47 L67.83,27.71 L69.23,28.91 L70.63,30.03 L72.04,31.09 L73.44,32.13 L74.84,33.14 L76.24,34.09 L77.64,35.03 L79.04,35.97 L80.45,36.90 L81.85,37.84 L83.25,38.77 L84.65,39.71 L86.05,40.65 L87.46,41.58 L88.86,42.52 L90.26,43.45 L91.66,44.39 L93.06,45.33 L94.46,46.26 L95.87,47.20 L97.27,48.13 L98.67,49.07 L100.07,50.01 L101.47,50.94 L102.88,51.88 L104.28,52.81 L105.68,53.75 L107.08,54.68 L108.48,55.62 L109.88,56.56 L111.29,57.49 L112.69,58.43 L114.09,59.36 L115.49,60.30 L116.89,61.24 L118.29,62.17 L119.70,63.11 L121.10,64.04 L122.50,64.98 L123.90,65.92 L125.30,66.85 L126.71,67.79 L128.11,68.72 L129.51,69.66 L130.91,70.60 L132.31,71.53 L133.71,72.47 L135.12,73.40 L136.52,74.34 L137.92,75.28 L139.32,76.21 L140.72,77.15 L142.13,78.08 L143.53,79.02 L144.93,79.96 L146.33,80.89 L147.73,81.83 L149.13,82.76 L150.54,83.70 L151.94,84.64 L153.34,85.57 L154.74,86.51 L156.14,87.44 L157.54,88.38 L158.95,89.32 L160.35,90.25 L161.75,91.19 L163.15,92.12 L164.55,93.06 L165.96,93.98 L167.36,94.91 L168.76,95.83 L170.16,96.74 L171.56,97.66 L172.96,98.57 L174.37,99.48 L175.77,100.39 L177.17,101.30 L178.57,102.21 L179.97,103.12 L181.38,104.02 L182.78,104.92 L184.18,105.81 L185.58,106.70 L186.98,107.59 L188.38,108.48 L189.79,109.36 L191.19,110.24 L192.59,111.11 L193.99,111.99 L195.39,112.86 L196.79,113.73 L198.20,114.60 L199.60,115.47 L201.00,116.34 L202.40,117.20 L203.80,118.07 L205.21,118.93 L206.61,119.79 L208.01,120.64 L209.41,121.49 L210.81,122.33 L212.21,123.17 L213.62,124.01 L215.02,124.84 L216.42,125.67 L217.82,126.49 L219.22,127.32 L220.63,128.14 L222.03,128.96 L223.43,129.78 L224.83,130.60 L226.23,131.42 L227.63,132.24 L229.04,133.06 L230.44,133.88 L231.84,134.70 L233.24,135.53 L234.64,136.35 L236.04,137.18 L237.45,138.01 L238.85,138.85 L240.25,139.68 L241.65,140.52 L243.05,141.37 L244.46,142.21 L245.86,143.06 L247.26,143.91 L248.66,144.76 L250.06,145.62 L251.46,146.47 L252.87,147.32 L254.27,148.18 L255.67,149.03 L257.07,149.88 L258.47,150.73 L259.88,151.58 L261.28,152.43 L262.68,153.27 L264.08,154.12 L265.48,154.96 L266.88,155.79 L268.29,156.63 L269.69,157.45 L271.09,158.28 L272.49,159.10 L273.89,159.91 L275.29,160.71 L276.70,161.51 L278.10,162.31 L279.50,163.10 L280.90,163.88 L282.30,164.66 L283.71,165.44 L285.11,166.22 L286.51,166.99 L287.91,167.77 L289.31,168.54 L290.71,169.31 L292.12,170.09 L293.52,170.86 L294.92,171.64 L296.32,172.42 L297.72,173.20 L299.13,173.99 L300.53,174.78 L301.93,175.58 L303.33,176.38 L304.73,177.18 L306.13,177.98 L307.54,178.78 L308.94,179.58 L310.34,180.39 L311.74,181.19 L313.14,182.00 L314.54,182.80 L315.95,183.61 L317.35,184.42 L318.75,185.23 L320.15,186.04 L321.55,186.85 L322.96,187.67 L324.36,188.48 L325.76,189.29 L327.16,190.11 L328.56,190.93 L329.96,191.74 L331.37,192.56 L332.77,193.39 L334.17,194.22 L335.57,195.05 L336.97,195.87 L338.38,196.68 L339.78,197.49 L341.18,198.29 L342.58,199.09 L343.98,199.89 L345.38,200.68 L346.79,201.47 L348.19,202.25 L349.59,203.04 L350.99,203.82 L352.39,204.60 L353.79,205.39 L355.20,206.17 L356.60,206.95 L358.00,207.73 L359.40,208.50 L360.80,209.28 L362.21,210.05 L363.61,210.82 L365.01,211.59 L366.41,212.36 L367.81,213.14 L369.21,213.91 L370.62,214.70 L372.02,215.48 L373.42,216.27 L374.82,217.07 L376.22,217.87 L377.63,218.67 L379.03,219.48 L380.43,220.28 L381.83,221.09 L383.23,221.89 L384.63,222.69 L386.04,223.48 L387.44,224.26 L388.84,225.04 L390.24,225.81 L391.64,226.57 L393.04,227.32 L394.45,228.07 L395.85,228.81 L397.25,229.55 L398.65,230.29 L400.05,231.04 L401.46,231.78 L402.86,232.53 L404.26,233.28 L405.66,234.03 L407.06,234.78" stroke="#FF0000" stroke-width="1.70" fill="none" stroke-dasharray="9.5 3.9 1.4 3.9"/>
</g>
<rect x="83.55" y="125.45" width="114.2" height="102.95" fill="#fff"/>
<g clip-path="url(#ci)">
<path d="M-279.50,-67.68 L392.07,324.84" stroke="#000" stroke-width="1.9" fill="none"/>
<path d="M-280.43,-73.17 L-278.29,-72.48 L-276.15,-71.75 L-274.01,-70.94 L-271.87,-70.00 L-269.73,-68.89 L-267.59,-67.65 L-265.45,-66.40 L-263.31,-65.15 L-261.17,-63.90 L-259.03,-62.46 L-256.89,-60.68 L-254.75,-58.82 L-252.61,-56.92 L-250.47,-54.93 L-248.33,-53.07 L-246.19,-51.33 L-244.05,-49.64 L-241.91,-47.99 L-239.77,-46.35 L-237.63,-44.71 L-235.50,-43.07 L-233.36,-41.49 L-231.22,-40.00 L-229.08,-38.58 L-226.94,-37.17 L-224.80,-35.80 L-222.66,-34.47 L-220.52,-33.21 L-218.38,-31.96 L-216.24,-30.71 L-214.10,-29.46 L-211.96,-28.20 L-209.82,-26.95 L-207.68,-25.70 L-205.54,-24.45 L-203.40,-23.20 L-201.26,-21.95 L-199.12,-20.70 L-196.98,-19.45 L-194.84,-18.20 L-192.70,-16.95 L-190.57,-15.70 L-188.43,-14.45 L-186.29,-13.20 L-184.15,-11.95 L-182.01,-10.70 L-179.87,-9.45 L-177.73,-8.20 L-175.59,-6.95 L-173.45,-5.70 L-171.31,-4.45 L-169.17,-3.19 L-167.03,-1.94 L-164.89,-0.69 L-162.75,0.56 L-160.61,1.81 L-158.47,3.06 L-156.33,4.31 L-154.19,5.56 L-152.05,6.81 L-149.91,8.06 L-147.77,9.31 L-145.64,10.56 L-143.50,11.82 L-141.36,13.09 L-139.22,14.36 L-137.08,15.64 L-134.94,16.92 L-132.80,18.21 L-130.66,19.51 L-128.52,20.81 L-126.38,22.11 L-124.24,23.42 L-122.10,24.73 L-119.96,26.04 L-117.82,27.35 L-115.68,28.66 L-113.54,29.98 L-111.40,31.29 L-109.26,32.61 L-107.12,33.92 L-104.98,35.25 L-102.84,36.58 L-100.70,37.93 L-98.57,39.27 L-96.43,40.62 L-94.29,41.97 L-92.15,43.32 L-90.01,44.67 L-87.87,46.01 L-85.73,47.35 L-83.59,48.69 L-81.45,50.03 L-79.31,51.37 L-77.17,52.72 L-75.03,54.06 L-72.89,55.40 L-70.75,56.74 L-68.61,58.08 L-66.47,59.42 L-64.33,60.75 L-62.19,62.09 L-60.05,63.42 L-57.91,64.76 L-55.77,66.10 L-53.64,67.45 L-51.50,68.81 L-49.36,70.17 L-47.22,71.55 L-45.08,72.93 L-42.94,74.32 L-40.80,75.72 L-38.66,77.12 L-36.52,78.53 L-34.38,79.94 L-32.24,81.36 L-30.10,82.79 L-27.96,84.22 L-25.82,85.67 L-23.68,87.13 L-21.54,88.58 L-19.40,90.05 L-17.26,91.50 L-15.12,92.96 L-12.98,94.41 L-10.84,95.85 L-8.70,97.29 L-6.57,98.73 L-4.43,100.17 L-2.29,101.60 L-0.15,103.04 L1.99,104.47 L4.13,105.91 L6.27,107.35 L8.41,108.79 L10.55,110.24 L12.69,111.69 L14.83,113.15 L16.97,114.62 L19.11,116.08 L21.25,117.56 L23.39,119.04 L25.53,120.52 L27.67,122.01 L29.81,123.51 L31.95,125.01 L34.09,126.51 L36.23,128.02 L38.36,129.53 L40.50,131.04 L42.64,132.55 L44.78,134.06 L46.92,135.57 L49.06,137.07 L51.20,138.56 L53.34,140.05 L55.48,141.54 L57.62,143.03 L59.76,144.52 L61.90,146.01 L64.04,147.51 L66.18,149.01 L68.32,150.51 L70.46,152.03 L72.60,153.55 L74.74,155.08 L76.88,156.63 L79.02,158.18 L81.16,159.75 L83.30,161.34 L85.43,162.95 L87.57,164.60 L89.71,166.27 L91.85,167.96 L93.99,169.67 L96.13,171.39 L98.27,173.11 L100.41,174.84 L102.55,176.56 L104.69,178.29 L106.83,180.03 L108.97,181.78 L111.11,183.53 L113.25,185.30 L115.39,187.07 L117.53,188.85 L119.67,190.63 L121.81,192.41 L123.95,194.20 L126.09,195.98 L128.23,197.78 L130.36,199.58 L132.50,201.39 L134.64,203.21 L136.78,205.05 L138.92,206.91 L141.06,208.78 L143.20,210.68 L145.34,212.60 L147.48,214.53 L149.62,216.49 L151.76,218.46 L153.90,220.44 L156.04,222.45 L158.18,224.46 L160.32,226.50 L162.46,228.54 L164.60,230.61 L166.74,232.69 L168.88,234.78 L171.02,236.89 L173.16,239.01 L175.29,241.15 L177.43,243.29 L179.57,245.45 L181.71,247.62 L183.85,249.80 L185.99,251.98 L188.13,254.18 L190.27,256.38 L192.41,258.59 L194.55,260.81 L196.69,263.04 L198.83,265.29 L200.97,267.55 L203.11,269.82 L205.25,272.11 L207.39,274.41 L209.53,276.72 L211.67,279.05 L213.81,281.39 L215.95,283.73 L218.09,286.09 L220.23,288.46 L222.36,290.84 L224.50,293.23 L226.64,295.63 L228.78,298.04 L230.92,300.46 L233.06,302.90 L235.20,305.35 L237.34,307.81 L239.48,310.29 L241.62,312.79 L243.76,315.30 L245.90,317.84 L248.04,320.39 L250.18,322.97 L252.32,325.57 L254.46,328.20 L256.60,330.86 L258.74,333.55 L260.88,336.26 L263.02,338.99 L265.16,341.74 L267.29,344.52 L269.43,347.32 L271.57,350.13 L273.71,352.96" stroke="#9400D3" stroke-width="1.20" fill="none" stroke-dasharray="1.1 3.2"/>
<path d="M-280.43,-73.17 L-278.06,-72.40 L-275.70,-71.59 L-273.34,-70.66 L-270.98,-69.56 L-268.62,-68.25 L-266.26,-66.88 L-263.90,-65.50 L-261.54,-64.12 L-259.18,-62.57 L-256.82,-60.62 L-254.46,-58.57 L-252.10,-56.44 L-249.73,-54.26 L-247.37,-52.28 L-245.01,-50.39 L-242.65,-48.56 L-240.29,-46.75 L-237.93,-44.94 L-235.57,-43.13 L-233.21,-41.38 L-230.85,-39.75 L-228.49,-38.19 L-226.13,-36.65 L-223.76,-35.15 L-221.40,-33.73 L-219.04,-32.34 L-216.68,-30.96 L-214.32,-29.58 L-211.96,-28.20 L-209.60,-26.83 L-207.24,-25.45 L-204.88,-24.07 L-202.52,-22.69 L-200.16,-21.31 L-197.80,-19.93 L-195.43,-18.55 L-193.07,-17.17 L-190.71,-15.79 L-188.35,-14.41 L-185.99,-13.03 L-183.63,-11.65 L-181.27,-10.27 L-178.91,-8.89 L-176.55,-7.51 L-174.19,-6.13 L-171.83,-4.75 L-169.46,-3.37 L-167.10,-1.99 L-164.74,-0.61 L-162.38,0.77 L-160.02,2.15 L-157.66,3.53 L-155.30,4.91 L-152.94,6.29 L-150.58,7.67 L-148.22,9.05 L-145.86,10.43 L-143.50,11.81 L-141.13,13.19 L-138.77,14.57 L-136.41,15.95 L-134.05,17.33 L-131.69,18.71 L-129.33,20.09 L-126.97,21.47 L-124.61,22.85 L-122.25,24.23 L-119.89,25.61 L-117.53,26.99 L-115.17,28.37 L-112.80,29.75 L-110.44,31.13 L-108.08,32.51 L-105.72,33.89 L-103.36,35.27 L-101.00,36.65 L-98.64,38.03 L-96.28,39.41 L-93.92,40.79 L-91.56,42.17 L-89.20,43.55 L-86.83,44.93 L-84.47,46.31 L-82.11,47.70 L-79.75,49.09 L-77.39,50.48 L-75.03,51.87 L-72.67,53.26 L-70.31,54.65 L-67.95,56.05 L-65.59,57.45 L-63.23,58.85 L-60.87,60.25 L-58.50,61.65 L-56.14,63.06 L-53.78,64.46 L-51.42,65.87 L-49.06,67.27 L-46.70,68.68 L-44.34,70.09 L-41.98,71.50 L-39.62,72.91 L-37.26,74.32 L-34.90,75.73 L-32.53,77.15 L-30.17,78.56 L-27.81,79.98 L-25.45,81.41 L-23.09,82.84 L-20.73,84.28 L-18.37,85.73 L-16.01,87.18 L-13.65,88.63 L-11.29,90.09 L-8.93,91.55 L-6.57,93.02 L-4.20,94.49 L-1.84,95.96 L0.52,97.44 L2.88,98.92 L5.24,100.40 L7.60,101.88 L9.96,103.36 L12.32,104.84 L14.68,106.32 L17.04,107.81 L19.40,109.30 L21.77,110.80 L24.13,112.31 L26.49,113.82 L28.85,115.34 L31.21,116.86 L33.57,118.39 L35.93,119.92 L38.29,121.45 L40.65,122.98 L43.01,124.51 L45.37,126.03 L47.73,127.56 L50.10,129.09 L52.46,130.62 L54.82,132.16 L57.18,133.69 L59.54,135.23 L61.90,136.77 L64.26,138.31 L66.62,139.85 L68.98,141.39 L71.34,142.93 L73.70,144.48 L76.06,146.02 L78.43,147.56 L80.79,149.10 L83.15,150.64 L85.51,152.18 L87.87,153.71 L90.23,155.24 L92.59,156.77 L94.95,158.31 L97.31,159.85 L99.67,161.40 L102.03,162.96 L104.40,164.53 L106.76,166.11 L109.12,167.69 L111.48,169.28 L113.84,170.88 L116.20,172.48 L118.56,174.08 L120.92,175.69 L123.28,177.31 L125.64,178.93 L128.00,180.55 L130.36,182.18 L132.73,183.81 L135.09,185.45 L137.45,187.09 L139.81,188.73 L142.17,190.38 L144.53,192.04 L146.89,193.71 L149.25,195.38 L151.61,197.07 L153.97,198.76 L156.33,200.45 L158.70,202.15 L161.06,203.84 L163.42,205.55 L165.78,207.25 L168.14,208.97 L170.50,210.70 L172.86,212.43 L175.22,214.16 L177.58,215.89 L179.94,217.61 L182.30,219.31 L184.66,221.00 L187.03,222.68 L189.39,224.34 L191.75,225.99 L194.11,227.65 L196.47,229.31 L198.83,230.98 L201.19,232.67 L203.55,234.37 L205.91,236.10 L208.27,237.84 L210.63,239.61 L213.00,241.39 L215.36,243.19 L217.72,245.00 L220.08,246.82 L222.44,248.66 L224.80,250.50 L227.16,252.35 L229.52,254.20 L231.88,256.06 L234.24,257.93 L236.60,259.79 L238.96,261.66 L241.33,263.55 L243.69,265.44 L246.05,267.34 L248.41,269.25 L250.77,271.15 L253.13,273.06 L255.49,274.97 L257.85,276.89 L260.21,278.82 L262.57,280.75 L264.93,282.69 L267.29,284.64 L269.66,286.59 L272.02,288.56 L274.38,290.53 L276.74,292.50 L279.10,294.49 L281.46,296.48 L283.82,298.48 L286.18,300.48 L288.54,302.48 L290.90,304.49 L293.26,306.51 L295.63,308.52 L297.99,310.55 L300.35,312.58 L302.71,314.61 L305.07,316.65 L307.43,318.69 L309.79,320.74 L312.15,322.79 L314.51,324.84 L316.87,326.91 L319.23,328.98 L321.59,331.06 L323.96,333.15 L326.32,335.24 L328.68,337.34 L331.04,339.44" stroke="#0000FF" stroke-width="1.20" fill="none" stroke-dasharray="4.4 1.9"/>
<path d="M-280.43,-73.17 L-277.95,-72.37 L-275.48,-71.51 L-273.01,-70.52 L-270.54,-69.33 L-268.07,-67.93 L-265.60,-66.49 L-263.12,-65.05 L-260.65,-63.59 L-258.18,-61.78 L-255.71,-59.65 L-253.24,-57.50 L-250.77,-55.20 L-248.30,-53.04 L-245.82,-51.04 L-243.35,-49.10 L-240.88,-47.20 L-238.41,-45.31 L-235.94,-43.41 L-233.47,-41.57 L-231.00,-39.85 L-228.52,-38.21 L-226.05,-36.60 L-223.58,-35.04 L-221.11,-33.55 L-218.64,-32.11 L-216.17,-30.66 L-213.69,-29.22 L-211.22,-27.77 L-208.75,-26.33 L-206.28,-24.88 L-203.81,-23.44 L-201.34,-22.00 L-198.87,-20.55 L-196.39,-19.11 L-193.92,-17.66 L-191.45,-16.22 L-188.98,-14.77 L-186.51,-13.33 L-184.04,-11.88 L-181.56,-10.44 L-179.09,-8.99 L-176.62,-7.55 L-174.15,-6.11 L-171.68,-4.66 L-169.21,-3.22 L-166.74,-1.77 L-164.26,-0.33 L-161.79,1.12 L-159.32,2.56 L-156.85,4.01 L-154.38,5.45 L-151.91,6.90 L-149.43,8.34 L-146.96,9.78 L-144.49,11.23 L-142.02,12.67 L-139.55,14.12 L-137.08,15.56 L-134.61,17.01 L-132.13,18.45 L-129.66,19.90 L-127.19,21.34 L-124.72,22.79 L-122.25,24.23 L-119.78,25.68 L-117.30,27.12 L-114.83,28.56 L-112.36,30.01 L-109.89,31.45 L-107.42,32.90 L-104.95,34.34 L-102.48,35.79 L-100.00,37.23 L-97.53,38.68 L-95.06,40.12 L-92.59,41.57 L-90.12,43.01 L-87.65,44.45 L-85.17,45.90 L-82.70,47.34 L-80.23,48.79 L-77.76,50.23 L-75.29,51.68 L-72.82,53.12 L-70.35,54.57 L-67.87,56.01 L-65.40,57.46 L-62.93,58.90 L-60.46,60.34 L-57.99,61.79 L-55.52,63.23 L-53.04,64.68 L-50.57,66.12 L-48.10,67.57 L-45.63,69.01 L-43.16,70.46 L-40.69,71.90 L-38.22,73.35 L-35.74,74.79 L-33.27,76.23 L-30.80,77.68 L-28.33,79.12 L-25.86,80.57 L-23.39,82.01 L-20.91,83.46 L-18.44,84.90 L-15.97,86.35 L-13.50,87.79 L-11.03,89.24 L-8.56,90.68 L-6.09,92.12 L-3.61,93.57 L-1.14,95.01 L1.33,96.46 L3.80,97.90 L6.27,99.35 L8.74,100.79 L11.21,102.24 L13.69,103.69 L16.16,105.14 L18.63,106.59 L21.10,108.04 L23.57,109.50 L26.04,110.96 L28.52,112.41 L30.99,113.87 L33.46,115.33 L35.93,116.79 L38.40,118.26 L40.87,119.72 L43.34,121.19 L45.82,122.65 L48.29,124.12 L50.76,125.59 L53.23,127.06 L55.70,128.53 L58.17,130.01 L60.65,131.48 L63.12,132.95 L65.59,134.43 L68.06,135.91 L70.53,137.38 L73.00,138.86 L75.47,140.34 L77.95,141.82 L80.42,143.30 L82.89,144.78 L85.36,146.27 L87.83,147.77 L90.30,149.28 L92.78,150.81 L95.25,152.34 L97.72,153.88 L100.19,155.43 L102.66,156.99 L105.13,158.56 L107.60,160.14 L110.08,161.72 L112.55,163.31 L115.02,164.90 L117.49,166.50 L119.96,168.10 L122.43,169.71 L124.91,171.32 L127.38,172.93 L129.85,174.55 L132.32,176.17 L134.79,177.79 L137.26,179.40 L139.73,181.02 L142.21,182.64 L144.68,184.26 L147.15,185.87 L149.62,187.49 L152.09,189.12 L154.56,190.75 L157.04,192.39 L159.51,194.04 L161.98,195.70 L164.45,197.36 L166.92,199.03 L169.39,200.70 L171.86,202.37 L174.34,204.05 L176.81,205.73 L179.28,207.41 L181.75,209.09 L184.22,210.76 L186.69,212.44 L189.17,214.11 L191.64,215.78 L194.11,217.45 L196.58,219.11 L199.05,220.77 L201.52,222.41 L203.99,224.06 L206.47,225.71 L208.94,227.37 L211.41,229.05 L213.88,230.75 L216.35,232.46 L218.82,234.19 L221.29,235.93 L223.77,237.68 L226.24,239.44 L228.71,241.20 L231.18,242.96 L233.65,244.73 L236.12,246.50 L238.60,248.27 L241.07,250.03 L243.54,251.78 L246.01,253.53 L248.48,255.28 L250.95,257.01 L253.42,258.74 L255.90,260.46 L258.37,262.19 L260.84,263.91 L263.31,265.63 L265.78,267.36 L268.25,269.09 L270.73,270.83 L273.20,272.58 L275.67,274.33 L278.14,276.10 L280.61,277.88 L283.08,279.67 L285.55,281.48 L288.03,283.31 L290.50,285.16 L292.97,287.03 L295.44,288.92 L297.91,290.82 L300.38,292.75 L302.86,294.69 L305.33,296.64 L307.80,298.61 L310.27,300.59 L312.74,302.59 L315.21,304.60 L317.68,306.61 L320.16,308.64 L322.63,310.67 L325.10,312.72 L327.57,314.77 L330.04,316.82 L332.51,318.88 L334.99,320.95 L337.46,323.01 L339.93,325.09 L342.40,327.20 L344.87,329.32 L347.34,331.47 L349.81,333.63 L352.29,335.81 L354.76,338.00 L357.23,340.20 L359.70,342.41" stroke="#008B00" stroke-width="1.30" fill="none" stroke-dasharray="7.75 3.0"/>
<path d="M-280.43,-73.17 L-277.92,-72.36 L-275.41,-71.48 L-272.90,-70.47 L-270.39,-69.26 L-267.88,-67.82 L-265.38,-66.36 L-262.87,-64.89 L-260.36,-63.41 L-257.85,-61.50 L-255.34,-59.33 L-252.83,-57.13 L-250.32,-54.80 L-247.82,-52.65 L-245.31,-50.63 L-242.80,-48.67 L-240.29,-46.75 L-237.78,-44.83 L-235.27,-42.91 L-232.77,-41.06 L-230.26,-39.36 L-227.75,-37.70 L-225.24,-36.08 L-222.73,-34.52 L-220.22,-33.03 L-217.72,-31.57 L-215.21,-30.10 L-212.70,-28.64 L-210.19,-27.17 L-207.68,-25.70 L-205.17,-24.24 L-202.66,-22.77 L-200.16,-21.31 L-197.65,-19.84 L-195.14,-18.37 L-192.63,-16.91 L-190.12,-15.44 L-187.61,-13.97 L-185.11,-12.51 L-182.60,-11.04 L-180.09,-9.58 L-177.58,-8.11 L-175.07,-6.64 L-172.56,-5.18 L-170.06,-3.71 L-167.55,-2.25 L-165.04,-0.78 L-162.53,0.69 L-160.02,2.15 L-157.51,3.62 L-155.00,5.08 L-152.50,6.55 L-149.99,8.02 L-147.48,9.48 L-144.97,10.95 L-142.46,12.42 L-139.95,13.88 L-137.45,15.35 L-134.94,16.81 L-132.43,18.28 L-129.92,19.75 L-127.41,21.21 L-124.90,22.68 L-122.40,24.14 L-119.89,25.61 L-117.38,27.08 L-114.87,28.54 L-112.36,30.01 L-109.85,31.47 L-107.34,32.94 L-104.84,34.41 L-102.33,35.87 L-99.82,37.34 L-97.31,38.81 L-94.80,40.27 L-92.29,41.74 L-89.79,43.20 L-87.28,44.67 L-84.77,46.14 L-82.26,47.60 L-79.75,49.07 L-77.24,50.53 L-74.74,52.00 L-72.23,53.47 L-69.72,54.93 L-67.21,56.40 L-64.70,57.87 L-62.19,59.33 L-59.68,60.80 L-57.18,62.26 L-54.67,63.73 L-52.16,65.20 L-49.65,66.66 L-47.14,68.13 L-44.63,69.59 L-42.13,71.06 L-39.62,72.53 L-37.11,73.99 L-34.60,75.46 L-32.09,76.92 L-29.58,78.39 L-27.08,79.86 L-24.57,81.32 L-22.06,82.79 L-19.55,84.26 L-17.04,85.72 L-14.53,87.19 L-12.02,88.65 L-9.52,90.12 L-7.01,91.59 L-4.50,93.05 L-1.99,94.52 L0.52,95.98 L3.03,97.45 L5.53,98.92 L8.04,100.38 L10.55,101.85 L13.06,103.31 L15.57,104.78 L18.08,106.25 L20.58,107.71 L23.09,109.18 L25.60,110.65 L28.11,112.11 L30.62,113.58 L33.13,115.04 L35.64,116.51 L38.14,117.98 L40.65,119.44 L43.16,120.91 L45.67,122.37 L48.18,123.84 L50.69,125.31 L53.19,126.78 L55.70,128.25 L58.21,129.73 L60.72,131.20 L63.23,132.68 L65.74,134.16 L68.24,135.63 L70.75,137.11 L73.26,138.59 L75.77,140.08 L78.28,141.56 L80.79,143.04 L83.30,144.53 L85.80,146.01 L88.31,147.50 L90.82,148.99 L93.33,150.48 L95.84,151.96 L98.35,153.45 L100.85,154.94 L103.36,156.44 L105.87,157.94 L108.38,159.46 L110.89,160.99 L113.40,162.53 L115.90,164.08 L118.41,165.63 L120.92,167.19 L123.43,168.76 L125.94,170.33 L128.45,171.91 L130.96,173.48 L133.46,175.06 L135.97,176.64 L138.48,178.22 L140.99,179.79 L143.50,181.36 L146.01,182.93 L148.51,184.49 L151.02,186.05 L153.53,187.60 L156.04,189.14 L158.55,190.68 L161.06,192.22 L163.56,193.76 L166.07,195.29 L168.58,196.83 L171.09,198.36 L173.60,199.90 L176.11,201.43 L178.61,202.97 L181.12,204.51 L183.63,206.06 L186.14,207.61 L188.65,209.16 L191.16,210.72 L193.67,212.29 L196.17,213.86 L198.68,215.44 L201.19,217.05 L203.70,218.68 L206.21,220.32 L208.72,221.97 L211.22,223.62 L213.73,225.28 L216.24,226.93 L218.75,228.57 L221.26,230.22 L223.77,231.86 L226.27,233.51 L228.78,235.16 L231.29,236.81 L233.80,238.47 L236.31,240.12 L238.82,241.78 L241.33,243.43 L243.83,245.09 L246.34,246.75 L248.85,248.41 L251.36,250.07 L253.87,251.73 L256.38,253.39 L258.88,255.05 L261.39,256.71 L263.90,258.37 L266.41,260.03 L268.92,261.70 L271.43,263.37 L273.93,265.04 L276.44,266.71 L278.95,268.39 L281.46,270.08 L283.97,271.76 L286.48,273.46 L288.99,275.16 L291.49,276.87 L294.00,278.59 L296.51,280.32 L299.02,282.06 L301.53,283.81 L304.04,285.56 L306.54,287.32 L309.05,289.08 L311.56,290.86 L314.07,292.65 L316.58,294.45 L319.09,296.27 L321.59,298.10 L324.10,299.95 L326.61,301.82 L329.12,303.71 L331.63,305.61 L334.14,307.54 L336.65,309.47 L339.15,311.43 L341.66,313.39 L344.17,315.37 L346.68,317.35 L349.19,319.35 L351.70,321.35 L354.20,323.35 L356.71,325.38 L359.22,327.43 L361.73,329.51 L364.24,331.60 L366.75,333.71 L369.25,335.83" stroke="#FF0000" stroke-width="1.75" fill="none"/>
<path d="M-280.43,-73.17 L-277.83,-72.33 L-275.23,-71.41 L-272.63,-70.35 L-270.04,-69.06 L-267.44,-67.56 L-264.84,-66.05 L-262.25,-64.53 L-259.65,-62.92 L-257.05,-60.82 L-254.46,-58.57 L-251.86,-56.22 L-249.26,-53.85 L-246.67,-51.71 L-244.07,-49.65 L-241.47,-47.65 L-238.87,-45.67 L-236.28,-43.67 L-233.68,-41.72 L-231.08,-39.91 L-228.49,-38.19 L-225.89,-36.50 L-223.29,-34.86 L-220.70,-33.31 L-218.10,-31.79 L-215.50,-30.27 L-212.90,-28.76 L-210.31,-27.24 L-207.71,-25.72 L-205.11,-24.20 L-202.52,-22.69 L-199.92,-21.17 L-197.32,-19.65 L-194.73,-18.13 L-192.13,-16.61 L-189.53,-15.10 L-186.94,-13.58 L-184.34,-12.06 L-181.74,-10.54 L-179.14,-9.02 L-176.55,-7.51 L-173.95,-5.99 L-171.35,-4.47 L-168.76,-2.95 L-166.16,-1.44 L-163.56,0.08 L-160.97,1.60 L-158.37,3.12 L-155.77,4.64 L-153.18,6.15 L-150.58,7.67 L-147.98,9.19 L-145.38,10.71 L-142.79,12.23 L-140.19,13.74 L-137.59,15.26 L-135.00,16.78 L-132.40,18.30 L-129.80,19.81 L-127.21,21.33 L-124.61,22.85 L-122.01,24.37 L-119.41,25.89 L-116.82,27.40 L-114.22,28.92 L-111.62,30.44 L-109.03,31.96 L-106.43,33.48 L-103.83,34.99 L-101.24,36.51 L-98.64,38.03 L-96.04,39.55 L-93.45,41.07 L-90.85,42.58 L-88.25,44.10 L-85.65,45.62 L-83.06,47.13 L-80.46,48.64 L-77.86,50.14 L-75.27,51.65 L-72.67,53.15 L-70.07,54.65 L-67.48,56.14 L-64.88,57.64 L-62.28,59.13 L-59.68,60.62 L-57.09,62.10 L-54.49,63.55 L-51.89,64.99 L-49.30,66.41 L-46.70,67.82 L-44.10,69.23 L-41.51,70.62 L-38.91,72.00 L-36.31,73.39 L-33.72,74.77 L-31.12,76.15 L-28.52,77.52 L-25.92,78.88 L-23.33,80.22 L-20.73,81.55 L-18.13,82.88 L-15.54,84.19 L-12.94,85.49 L-10.34,86.79 L-7.75,88.08 L-5.15,89.36 L-2.55,90.64 L0.05,91.91 L2.64,93.17 L5.24,94.44 L7.84,95.70 L10.43,96.96 L13.03,98.22 L15.63,99.48 L18.22,100.73 L20.82,101.98 L23.42,103.22 L26.01,104.45 L28.61,105.68 L31.21,106.90 L33.81,108.11 L36.40,109.32 L39.00,110.52 L41.60,111.72 L44.19,112.91 L46.79,114.10 L49.39,115.29 L51.98,116.47 L54.58,117.65 L57.18,118.83 L59.77,120.01 L62.37,121.18 L64.97,122.36 L67.57,123.53 L70.16,124.70 L72.76,125.88 L75.36,127.05 L77.95,128.23 L80.55,129.41 L83.15,130.59 L85.74,131.77 L88.34,132.95 L90.94,134.12 L93.54,135.29 L96.13,136.46 L98.73,137.63 L101.33,138.80 L103.92,139.96 L106.52,141.12 L109.12,142.29 L111.71,143.45 L114.31,144.61 L116.91,145.77 L119.50,146.93 L122.10,148.09 L124.70,149.25 L127.30,150.41 L129.89,151.57 L132.49,152.73 L135.09,153.89 L137.68,155.06 L140.28,156.22 L142.88,157.39 L145.47,158.56 L148.07,159.73 L150.67,160.91 L153.27,162.08 L155.86,163.26 L158.46,164.44 L161.06,165.61 L163.65,166.79 L166.25,167.97 L168.85,169.14 L171.44,170.31 L174.04,171.49 L176.64,172.65 L179.23,173.82 L181.83,174.98 L184.43,176.14 L187.03,177.29 L189.62,178.44 L192.22,179.59 L194.82,180.72 L197.41,181.86 L200.01,182.98 L202.61,184.11 L205.20,185.23 L207.80,186.34 L210.40,187.45 L213.00,188.56 L215.59,189.67 L218.19,190.77 L220.79,191.86 L223.38,192.95 L225.98,194.04 L228.58,195.12 L231.17,196.20 L233.77,197.27 L236.37,198.34 L238.96,199.41 L241.56,200.46 L244.16,201.52 L246.76,202.57 L249.35,203.61 L251.95,204.65 L254.55,205.68 L257.14,206.70 L259.74,207.71 L262.34,208.71 L264.93,209.70 L267.53,210.68 L270.13,211.65 L272.72,212.62 L275.32,213.58 L277.92,214.54 L280.52,215.49 L283.11,216.43 L285.71,217.37 L288.31,218.29 L290.90,219.19 L293.50,220.09 L296.10,220.98 L298.69,221.87 L301.29,222.75 L303.89,223.64 L306.49,224.53 L309.08,225.43 L311.68,226.34 L314.28,227.26 L316.87,228.18 L319.47,229.10 L322.07,230.03 L324.66,230.96 L327.26,231.89 L329.86,232.83 L332.45,233.76 L335.05,234.70 L337.65,235.64 L340.25,236.58 L342.84,237.53 L345.44,238.47 L348.04,239.41 L350.63,240.36 L353.23,241.30 L355.83,242.24 L358.42,243.19 L361.02,244.13 L363.62,245.07 L366.22,246.02 L368.81,246.96 L371.41,247.90 L374.01,248.84 L376.60,249.77 L379.20,250.71 L381.80,251.64 L384.39,252.57 L386.99,253.49 L389.59,254.41 L392.18,255.34" stroke="#9400D3" stroke-width="0.85" fill="none" stroke-dasharray="3.2 1.8 0.5 1.8 0.5 1.8"/>
<path d="M-280.43,-73.17 L-277.83,-72.33 L-275.23,-71.41 L-272.63,-70.35 L-270.04,-69.06 L-267.44,-67.56 L-264.84,-66.05 L-262.25,-64.53 L-259.65,-62.92 L-257.05,-60.82 L-254.46,-58.57 L-251.86,-56.22 L-249.26,-53.85 L-246.67,-51.71 L-244.07,-49.65 L-241.47,-47.65 L-238.87,-45.67 L-236.28,-43.67 L-233.68,-41.72 L-231.08,-39.91 L-228.49,-38.19 L-225.89,-36.50 L-223.29,-34.86 L-220.70,-33.31 L-218.10,-31.79 L-215.50,-30.27 L-212.90,-28.76 L-210.31,-27.24 L-207.71,-25.72 L-205.11,-24.20 L-202.52,-22.69 L-199.92,-21.17 L-197.32,-19.65 L-194.73,-18.13 L-192.13,-16.61 L-189.53,-15.10 L-186.94,-13.58 L-184.34,-12.06 L-181.74,-10.54 L-179.14,-9.02 L-176.55,-7.51 L-173.95,-5.99 L-171.35,-4.47 L-168.76,-2.95 L-166.16,-1.44 L-163.56,0.08 L-160.97,1.60 L-158.37,3.12 L-155.77,4.64 L-153.18,6.15 L-150.58,7.67 L-147.98,9.19 L-145.38,10.71 L-142.79,12.23 L-140.19,13.74 L-137.59,15.26 L-135.00,16.78 L-132.40,18.30 L-129.80,19.81 L-127.21,21.33 L-124.61,22.85 L-122.01,24.37 L-119.41,25.89 L-116.82,27.40 L-114.22,28.92 L-111.62,30.44 L-109.03,31.96 L-106.43,33.48 L-103.83,34.99 L-101.24,36.51 L-98.64,38.03 L-96.04,39.55 L-93.45,41.07 L-90.85,42.58 L-88.25,44.10 L-85.65,45.62 L-83.06,47.13 L-80.46,48.65 L-77.86,50.16 L-75.27,51.67 L-72.67,53.18 L-70.07,54.69 L-67.48,56.19 L-64.88,57.70 L-62.28,59.21 L-59.68,60.71 L-57.09,62.20 L-54.49,63.68 L-51.89,65.15 L-49.30,66.61 L-46.70,68.05 L-44.10,69.50 L-41.51,70.93 L-38.91,72.37 L-36.31,73.79 L-33.72,75.22 L-31.12,76.65 L-28.52,78.07 L-25.92,79.49 L-23.33,80.89 L-20.73,82.29 L-18.13,83.67 L-15.54,85.06 L-12.94,86.43 L-10.34,87.80 L-7.75,89.16 L-5.15,90.52 L-2.55,91.88 L0.05,93.22 L2.64,94.57 L5.24,95.91 L7.84,97.25 L10.43,98.59 L13.03,99.92 L15.63,101.26 L18.22,102.59 L20.82,103.90 L23.42,105.22 L26.01,106.52 L28.61,107.82 L31.21,109.10 L33.81,110.39 L36.40,111.66 L39.00,112.93 L41.60,114.20 L44.19,115.46 L46.79,116.72 L49.39,117.97 L51.98,119.22 L54.58,120.47 L57.18,121.72 L59.77,122.96 L62.37,124.21 L64.97,125.45 L67.57,126.69 L70.16,127.94 L72.76,129.18 L75.36,130.43 L77.95,131.67 L80.55,132.92 L83.15,134.17 L85.74,135.42 L88.34,136.67 L90.94,137.91 L93.54,139.15 L96.13,140.38 L98.73,141.62 L101.33,142.85 L103.92,144.08 L106.52,145.31 L109.12,146.54 L111.71,147.77 L114.31,149.00 L116.91,150.23 L119.50,151.46 L122.10,152.70 L124.70,153.93 L127.30,155.17 L129.89,156.41 L132.49,157.66 L135.09,158.91 L137.68,160.16 L140.28,161.42 L142.88,162.69 L145.47,163.97 L148.07,165.24 L150.67,166.53 L153.27,167.81 L155.86,169.08 L158.46,170.36 L161.06,171.62 L163.65,172.89 L166.25,174.15 L168.85,175.41 L171.44,176.67 L174.04,177.92 L176.64,179.18 L179.23,180.43 L181.83,181.69 L184.43,182.94 L187.03,184.18 L189.62,185.43 L192.22,186.68 L194.82,187.92 L197.41,189.16 L200.01,190.40 L202.61,191.64 L205.20,192.89 L207.80,194.13 L210.40,195.38 L213.00,196.62 L215.59,197.87 L218.19,199.10 L220.79,200.34 L223.38,201.57 L225.98,202.80 L228.58,204.02 L231.17,205.23 L233.77,206.44 L236.37,207.63 L238.96,208.82 L241.56,210.00 L244.16,211.17 L246.76,212.31 L249.35,213.43 L251.95,214.53 L254.55,215.62 L257.14,216.70 L259.74,217.77 L262.34,218.85 L264.93,219.92 L267.53,221.01 L270.13,222.11 L272.72,223.21 L275.32,224.31 L277.92,225.41 L280.52,226.52 L283.11,227.62 L285.71,228.73 L288.31,229.83 L290.90,230.93 L293.50,232.03 L296.10,233.13 L298.69,234.23 L301.29,235.32 L303.89,236.41 L306.49,237.49 L309.08,238.57 L311.68,239.65 L314.28,240.73 L316.87,241.81 L319.47,242.89 L322.07,243.97 L324.66,245.05 L327.26,246.13 L329.86,247.21 L332.45,248.28 L335.05,249.36 L337.65,250.44 L340.25,251.52 L342.84,252.59 L345.44,253.67 L348.04,254.74 L350.63,255.82 L353.23,256.89 L355.83,257.97 L358.42,259.04 L361.02,260.11 L363.62,261.18 L366.22,262.25 L368.81,263.31 L371.41,264.38 L374.01,265.44 L376.60,266.50 L379.20,267.56 L381.80,268.62 L384.39,269.68 L386.99,270.74 L389.59,271.79 L392.18,272.85" stroke="#0000FF" stroke-width="1.05" fill="none" stroke-dasharray="4.8 2.3 0.8 2.3"/>
<path d="M-280.43,-73.17 L-277.83,-72.33 L-275.23,-71.41 L-272.63,-70.35 L-270.04,-69.06 L-267.44,-67.56 L-264.84,-66.05 L-262.25,-64.53 L-259.65,-62.92 L-257.05,-60.82 L-254.46,-58.57 L-251.86,-56.22 L-249.26,-53.85 L-246.67,-51.71 L-244.07,-49.65 L-241.47,-47.65 L-238.87,-45.67 L-236.28,-43.67 L-233.68,-41.72 L-231.08,-39.91 L-228.49,-38.19 L-225.89,-36.50 L-223.29,-34.86 L-220.70,-33.31 L-218.10,-31.79 L-215.50,-30.27 L-212.90,-28.76 L-210.31,-27.24 L-207.71,-25.72 L-205.11,-24.20 L-202.52,-22.69 L-199.92,-21.17 L-197.32,-19.65 L-194.73,-18.13 L-192.13,-16.61 L-189.53,-15.10 L-186.94,-13.58 L-184.34,-12.06 L-181.74,-10.54 L-179.14,-9.02 L-176.55,-7.51 L-173.95,-5.99 L-171.35,-4.47 L-168.76,-2.95 L-166.16,-1.44 L-163.56,0.08 L-160.97,1.60 L-158.37,3.12 L-155.77,4.64 L-153.18,6.15 L-150.58,7.67 L-147.98,9.19 L-145.38,10.71 L-142.79,12.23 L-140.19,13.74 L-137.59,15.26 L-135.00,16.78 L-132.40,18.30 L-129.80,19.81 L-127.21,21.33 L-124.61,22.85 L-122.01,24.37 L-119.41,25.89 L-116.82,27.40 L-114.22,28.92 L-111.62,30.44 L-109.03,31.96 L-106.43,33.48 L-103.83,34.99 L-101.24,36.51 L-98.64,38.03 L-96.04,39.55 L-93.45,41.07 L-90.85,42.58 L-88.25,44.10 L-85.65,45.62 L-83.06,47.14 L-80.46,48.65 L-77.86,50.17 L-75.27,51.69 L-72.67,53.21 L-70.07,54.73 L-67.48,56.24 L-64.88,57.76 L-62.28,59.28 L-59.68,60.80 L-57.09,62.30 L-54.49,63.80 L-51.89,65.29 L-49.30,66.76 L-46.70,68.23 L-44.10,69.70 L-41.51,71.16 L-38.91,72.62 L-36.31,74.07 L-33.72,75.53 L-31.12,76.99 L-28.52,78.44 L-25.92,79.88 L-23.33,81.32 L-20.73,82.76 L-18.13,84.18 L-15.54,85.61 L-12.94,87.03 L-10.34,88.44 L-7.75,89.85 L-5.15,91.25 L-2.55,92.65 L0.05,94.05 L2.64,95.45 L5.24,96.84 L7.84,98.23 L10.43,99.62 L13.03,101.00 L15.63,102.39 L18.22,103.77 L20.82,105.14 L23.42,106.51 L26.01,107.87 L28.61,109.23 L31.21,110.58 L33.81,111.92 L36.40,113.26 L39.00,114.60 L41.60,115.93 L44.19,117.26 L46.79,118.58 L49.39,119.90 L51.98,121.22 L54.58,122.54 L57.18,123.85 L59.77,125.16 L62.37,126.47 L64.97,127.78 L67.57,129.09 L70.16,130.40 L72.76,131.71 L75.36,133.01 L77.95,134.32 L80.55,135.63 L83.15,136.94 L85.74,138.25 L88.34,139.56 L90.94,140.86 L93.54,142.17 L96.13,143.47 L98.73,144.77 L101.33,146.06 L103.92,147.36 L106.52,148.65 L109.12,149.94 L111.71,151.23 L114.31,152.52 L116.91,153.81 L119.50,155.09 L122.10,156.38 L124.70,157.66 L127.30,158.94 L129.89,160.22 L132.49,161.49 L135.09,162.77 L137.68,164.04 L140.28,165.32 L142.88,166.58 L145.47,167.84 L148.07,169.09 L150.67,170.34 L153.27,171.59 L155.86,172.84 L158.46,174.10 L161.06,175.38 L163.65,176.66 L166.25,177.94 L168.85,179.23 L171.44,180.52 L174.04,181.82 L176.64,183.12 L179.23,184.42 L181.83,185.73 L184.43,187.03 L187.03,188.33 L189.62,189.64 L192.22,190.94 L194.82,192.24 L197.41,193.54 L200.01,194.84 L202.61,196.14 L205.20,197.44 L207.80,198.74 L210.40,200.04 L213.00,201.34 L215.59,202.63 L218.19,203.91 L220.79,205.19 L223.38,206.47 L225.98,207.74 L228.58,209.01 L231.17,210.28 L233.77,211.54 L236.37,212.81 L238.96,214.07 L241.56,215.33 L244.16,216.58 L246.76,217.84 L249.35,219.10 L251.95,220.35 L254.55,221.60 L257.14,222.85 L259.74,224.10 L262.34,225.35 L264.93,226.59 L267.53,227.83 L270.13,229.07 L272.72,230.30 L275.32,231.53 L277.92,232.75 L280.52,233.97 L283.11,235.18 L285.71,236.39 L288.31,237.60 L290.90,238.81 L293.50,240.01 L296.10,241.22 L298.69,242.42 L301.29,243.63 L303.89,244.83 L306.49,246.04 L309.08,247.24 L311.68,248.45 L314.28,249.65 L316.87,250.85 L319.47,252.04 L322.07,253.23 L324.66,254.42 L327.26,255.59 L329.86,256.75 L332.45,257.90 L335.05,259.04 L337.65,260.17 L340.25,261.29 L342.84,262.40 L345.44,263.51 L348.04,264.62 L350.63,265.74 L353.23,266.86 L355.83,267.99 L358.42,269.12 L361.02,270.26 L363.62,271.39 L366.22,272.53 L368.81,273.68 L371.41,274.82 L374.01,275.96 L376.60,277.11 L379.20,278.26 L381.80,279.41 L384.39,280.56 L386.99,281.72 L389.59,282.88 L392.18,284.04" stroke="#008B00" stroke-width="1.25" fill="none" stroke-dasharray="5.9 3.4 0.9 3.3 0.9 3.4"/>
<path d="M-280.43,-73.17 L-277.83,-72.33 L-275.23,-71.41 L-272.63,-70.35 L-270.04,-69.06 L-267.44,-67.56 L-264.84,-66.05 L-262.25,-64.53 L-259.65,-62.92 L-257.05,-60.82 L-254.46,-58.57 L-251.86,-56.22 L-249.26,-53.85 L-246.67,-51.71 L-244.07,-49.65 L-241.47,-47.65 L-238.87,-45.67 L-236.28,-43.67 L-233.68,-41.72 L-231.08,-39.91 L-228.49,-38.19 L-225.89,-36.50 L-223.29,-34.86 L-220.70,-33.31 L-218.10,-31.79 L-215.50,-30.27 L-212.90,-28.76 L-210.31,-27.24 L-207.71,-25.72 L-205.11,-24.20 L-202.52,-22.69 L-199.92,-21.17 L-197.32,-19.65 L-194.73,-18.13 L-192.13,-16.61 L-189.53,-15.10 L-186.94,-13.58 L-184.34,-12.06 L-181.74,-10.54 L-179.14,-9.02 L-176.55,-7.51 L-173.95,-5.99 L-171.35,-4.47 L-168.76,-2.95 L-166.16,-1.44 L-163.56,0.08 L-160.97,1.60 L-158.37,3.12 L-155.77,4.64 L-153.18,6.15 L-150.58,7.67 L-147.98,9.19 L-145.38,10.71 L-142.79,12.23 L-140.19,13.74 L-137.59,15.26 L-135.00,16.78 L-132.40,18.30 L-129.80,19.81 L-127.21,21.33 L-124.61,22.85 L-122.01,24.37 L-119.41,25.89 L-116.82,27.40 L-114.22,28.92 L-111.62,30.44 L-109.03,31.96 L-106.43,33.48 L-103.83,34.99 L-101.24,36.51 L-98.64,38.03 L-96.04,39.55 L-93.45,41.07 L-90.85,42.58 L-88.25,44.10 L-85.65,45.62 L-83.06,47.14 L-80.46,48.65 L-77.86,50.17 L-75.27,51.69 L-72.67,53.21 L-70.07,54.73 L-67.48,56.24 L-64.88,57.76 L-62.28,59.28 L-59.68,60.80 L-57.09,62.31 L-54.49,63.81 L-51.89,65.31 L-49.30,66.80 L-46.70,68.29 L-44.10,69.77 L-41.51,71.25 L-38.91,72.73 L-36.31,74.20 L-33.72,75.68 L-31.12,77.15 L-28.52,78.62 L-25.92,80.09 L-23.33,81.54 L-20.73,82.99 L-18.13,84.44 L-15.54,85.88 L-12.94,87.31 L-10.34,88.74 L-7.75,90.17 L-5.15,91.59 L-2.55,93.01 L0.05,94.43 L2.64,95.84 L5.24,97.25 L7.84,98.66 L10.43,100.07 L13.03,101.47 L15.63,102.87 L18.22,104.27 L20.82,105.66 L23.42,107.05 L26.01,108.42 L28.61,109.79 L31.21,111.15 L33.81,112.50 L36.40,113.85 L39.00,115.20 L41.60,116.54 L44.19,117.87 L46.79,119.21 L49.39,120.54 L51.98,121.87 L54.58,123.20 L57.18,124.52 L59.77,125.85 L62.37,127.18 L64.97,128.51 L67.57,129.85 L70.16,131.18 L72.76,132.52 L75.36,133.87 L77.95,135.21 L80.55,136.57 L83.15,137.92 L85.74,139.29 L88.34,140.66 L90.94,142.03 L93.54,143.40 L96.13,144.78 L98.73,146.16 L101.33,147.55 L103.92,148.93 L106.52,150.31 L109.12,151.70 L111.71,153.08 L114.31,154.46 L116.91,155.84 L119.50,157.22 L122.10,158.59 L124.70,159.96 L127.30,161.33 L129.89,162.69 L132.49,164.05 L135.09,165.40 L137.68,166.74 L140.28,168.08 L142.88,169.41 L145.47,170.73 L148.07,172.03 L150.67,173.33 L153.27,174.61 L155.86,175.89 L158.46,177.17 L161.06,178.43 L163.65,179.70 L166.25,180.96 L168.85,182.21 L171.44,183.47 L174.04,184.72 L176.64,185.98 L179.23,187.23 L181.83,188.49 L184.43,189.75 L187.03,191.02 L189.62,192.29 L192.22,193.56 L194.82,194.84 L197.41,196.14 L200.01,197.43 L202.61,198.73 L205.20,200.03 L207.80,201.33 L210.40,202.63 L213.00,203.93 L215.59,205.24 L218.19,206.55 L220.79,207.85 L223.38,209.16 L225.98,210.48 L228.58,211.79 L231.17,213.10 L233.77,214.42 L236.37,215.74 L238.96,217.06 L241.56,218.38 L244.16,219.70 L246.76,221.02 L249.35,222.35 L251.95,223.68 L254.55,225.02 L257.14,226.36 L259.74,227.71 L262.34,229.04 L264.93,230.36 L267.53,231.67 L270.13,232.97 L272.72,234.27 L275.32,235.56 L277.92,236.84 L280.52,238.12 L283.11,239.39 L285.71,240.67 L288.31,241.94 L290.90,243.21 L293.50,244.48 L296.10,245.75 L298.69,247.01 L301.29,248.27 L303.89,249.53 L306.49,250.78 L309.08,252.03 L311.68,253.28 L314.28,254.53 L316.87,255.79 L319.47,257.04 L322.07,258.31 L324.66,259.57 L327.26,260.85 L329.86,262.13 L332.45,263.42 L335.05,264.72 L337.65,266.02 L340.25,267.33 L342.84,268.63 L345.44,269.94 L348.04,271.24 L350.63,272.53 L353.23,273.81 L355.83,275.09 L358.42,276.35 L361.02,277.59 L363.62,278.82 L366.22,280.05 L368.81,281.26 L371.41,282.46 L374.01,283.67 L376.60,284.87 L379.20,286.07 L381.80,287.28 L384.39,288.49 L386.99,289.71 L389.59,290.93 L392.18,292.15" stroke="#FF0000" stroke-width="1.70" fill="none" stroke-dasharray="9.5 3.9 1.4 3.9"/>
</g>
<rect x="83.55" y="125.45" width="114.2" height="102.95" fill="none" stroke="#000" stroke-width="1.0"/>
<rect x="44.0" y="1.0" width="361.0" height="252.7" fill="none" stroke="#000" stroke-width="1.05"/>
<line x1="95.57" y1="253.70" x2="95.57" y2="250.10" stroke="#000" stroke-width="0.80"/>
<line x1="95.57" y1="1.00" x2="95.57" y2="4.60" stroke="#000" stroke-width="0.80"/>
<line x1="147.14" y1="253.70" x2="147.14" y2="246.70" stroke="#000" stroke-width="0.80"/>
<line x1="147.14" y1="1.00" x2="147.14" y2="8.00" stroke="#000" stroke-width="0.80"/>
<line x1="198.71" y1="253.70" x2="198.71" y2="250.10" stroke="#000" stroke-width="0.80"/>
<line x1="198.71" y1="1.00" x2="198.71" y2="4.60" stroke="#000" stroke-width="0.80"/>
<line x1="250.29" y1="253.70" x2="250.29" y2="246.70" stroke="#000" stroke-width="0.80"/>
<line x1="250.29" y1="1.00" x2="250.29" y2="8.00" stroke="#000" stroke-width="0.80"/>
<line x1="301.86" y1="253.70" x2="301.86" y2="250.10" stroke="#000" stroke-width="0.80"/>
<line x1="301.86" y1="1.00" x2="301.86" y2="4.60" stroke="#000" stroke-width="0.80"/>
<line x1="353.43" y1="253.70" x2="353.43" y2="246.70" stroke="#000" stroke-width="0.80"/>
<line x1="353.43" y1="1.00" x2="353.43" y2="8.00" stroke="#000" stroke-width="0.80"/>
<line x1="44.00" y1="226.50" x2="51.00" y2="226.50" stroke="#000" stroke-width="0.80"/>
<line x1="405.00" y1="226.50" x2="398.00" y2="226.50" stroke="#000" stroke-width="0.80"/>
<line x1="44.00" y1="142.99" x2="47.60" y2="142.99" stroke="#000" stroke-width="0.80"/>
<line x1="405.00" y1="142.99" x2="401.40" y2="142.99" stroke="#000" stroke-width="0.80"/>
<line x1="44.00" y1="94.15" x2="51.00" y2="94.15" stroke="#000" stroke-width="0.80"/>
<line x1="405.00" y1="94.15" x2="398.00" y2="94.15" stroke="#000" stroke-width="0.80"/>
<line x1="44.00" y1="59.49" x2="47.60" y2="59.49" stroke="#000" stroke-width="0.80"/>
<line x1="405.00" y1="59.49" x2="401.40" y2="59.49" stroke="#000" stroke-width="0.80"/>
<line x1="44.00" y1="32.61" x2="51.00" y2="32.61" stroke="#000" stroke-width="0.80"/>
<line x1="405.00" y1="32.61" x2="398.00" y2="32.61" stroke="#000" stroke-width="0.80"/>
<line x1="44.00" y1="10.64" x2="47.60" y2="10.64" stroke="#000" stroke-width="0.80"/>
<line x1="405.00" y1="10.64" x2="401.40" y2="10.64" stroke="#000" stroke-width="0.80"/>
<line x1="102.50" y1="228.40" x2="102.50" y2="225.10" stroke="#000" stroke-width="0.85"/>
<line x1="102.50" y1="125.45" x2="102.50" y2="128.75" stroke="#000" stroke-width="0.85"/>
<line x1="140.70" y1="228.40" x2="140.70" y2="225.10" stroke="#000" stroke-width="0.85"/>
<line x1="140.70" y1="125.45" x2="140.70" y2="128.75" stroke="#000" stroke-width="0.85"/>
<line x1="178.90" y1="228.40" x2="178.90" y2="225.10" stroke="#000" stroke-width="0.85"/>
<line x1="178.90" y1="125.45" x2="178.90" y2="128.75" stroke="#000" stroke-width="0.85"/>
<line x1="83.55" y1="144.50" x2="86.85" y2="144.50" stroke="#000" stroke-width="0.85"/>
<line x1="197.75" y1="144.50" x2="194.45" y2="144.50" stroke="#000" stroke-width="0.85"/>
<line x1="83.55" y1="170.35" x2="86.85" y2="170.35" stroke="#000" stroke-width="0.85"/>
<line x1="197.75" y1="170.35" x2="194.45" y2="170.35" stroke="#000" stroke-width="0.85"/>
<line x1="83.55" y1="200.20" x2="86.85" y2="200.20" stroke="#000" stroke-width="0.85"/>
<line x1="197.75" y1="200.20" x2="194.45" y2="200.20" stroke="#000" stroke-width="0.85"/>
<line x1="154.1" y1="23.8" x2="175.0" y2="23.8" stroke="#9400D3" stroke-width="0.85" stroke-dasharray="3.2 1.8 0.5 1.8 0.5 1.8" stroke-dashoffset="0"/>
<line x1="154.1" y1="40.5" x2="175.0" y2="40.5" stroke="#0000FF" stroke-width="1.05" stroke-dasharray="4.8 2.3 0.8 2.3" stroke-dashoffset="7.1"/>
<line x1="154.3" y1="57.2" x2="174.8" y2="57.2" stroke="#008B00" stroke-width="1.25" stroke-dasharray="5.9 3.4 0.9 3.3 0.9 3.4" stroke-dashoffset="13.5"/>
<line x1="154.1" y1="73.8" x2="174.6" y2="73.8" stroke="#FF0000" stroke-width="1.70" stroke-dasharray="9.5 3.9 1.4 3.9" stroke-dashoffset="13.4"/>
<line x1="238.1" y1="23.8" x2="260.0" y2="23.8" stroke="#9400D3" stroke-width="1.20" stroke-dasharray="1.1 3.2" stroke-dashoffset="0"/>
<line x1="238.1" y1="40.5" x2="260.0" y2="40.5" stroke="#0000FF" stroke-width="1.20" stroke-dasharray="4.4 1.9" stroke-dashoffset="0"/>
<line x1="238.1" y1="57.2" x2="260.0" y2="57.2" stroke="#008B00" stroke-width="1.30" stroke-dasharray="7.75 3.0" stroke-dashoffset="0"/>
<line x1="238.1" y1="73.9" x2="260.0" y2="73.9" stroke="#FF0000" stroke-width="1.75"/>
<line x1="237.9" y1="113.6" x2="259.9" y2="113.6" stroke="#000" stroke-width="1.9"/>
<text x="17.2" y="37.7" font-size="14.3px" textLength="23.6" lengthAdjust="spacingAndGlyphs">0.05</text>
<text x="17.2" y="99.4" font-size="14.3px" textLength="23.6" lengthAdjust="spacingAndGlyphs">0.03</text>
<text x="17.2" y="231.6" font-size="14.3px" textLength="23.6" lengthAdjust="spacingAndGlyphs">0.01</text>
<text x="41.1" y="266.8" font-size="14.3px" textLength="6.4" lengthAdjust="spacingAndGlyphs">0</text>
<text x="141.0" y="266.8" font-size="14.3px" textLength="12.9" lengthAdjust="spacingAndGlyphs">10</text>
<text x="244.1" y="266.8" font-size="14.3px" textLength="12.9" lengthAdjust="spacingAndGlyphs">20</text>
<text x="347.2" y="266.8" font-size="14.3px" textLength="12.9" lengthAdjust="spacingAndGlyphs">30</text>
<text x="56.1" y="148.7" font-size="14.3px" textLength="24.2" lengthAdjust="spacingAndGlyphs">0.02</text>
<text x="50.5" y="205.3" font-size="14.3px" textLength="29.8" lengthAdjust="spacingAndGlyphs">0.015</text>
<text x="95.8" y="241.6" font-size="14.3px" textLength="14.4" lengthAdjust="spacingAndGlyphs">20</text>
<text x="172.3" y="241.6" font-size="14.3px" textLength="14.4" lengthAdjust="spacingAndGlyphs">24</text>
<text x="183.2" y="28.7" font-size="14.5px" textLength="35.3" lengthAdjust="spacingAndGlyphs">ED-15</text>
<text x="267.0" y="28.7" font-size="14.5px" textLength="53.3" lengthAdjust="spacingAndGlyphs">NLCE-14</text>
<text x="183.2" y="45.3" font-size="14.5px" textLength="35.3" lengthAdjust="spacingAndGlyphs">ED-16</text>
<text x="267.0" y="45.3" font-size="14.5px" textLength="53.3" lengthAdjust="spacingAndGlyphs">NLCE-15</text>
<text x="183.2" y="62.1" font-size="14.5px" textLength="35.3" lengthAdjust="spacingAndGlyphs">ED-17</text>
<text x="267.0" y="62.1" font-size="14.5px" textLength="53.3" lengthAdjust="spacingAndGlyphs">NLCE-16</text>
<text x="183.2" y="79.0" font-size="14.5px" textLength="35.3" lengthAdjust="spacingAndGlyphs">ED-18</text>
<text x="267.0" y="79.0" font-size="14.5px" textLength="53.3" lengthAdjust="spacingAndGlyphs">NLCE-17</text>
<text x="267.2" y="116.7" font-size="14.5px" textLength="35.3" lengthAdjust="spacingAndGlyphs">Exp fit</text>
<text x="376.2" y="18.7" font-size="14.5px" textLength="16.4" lengthAdjust="spacingAndGlyphs">(a)</text>
<g transform="translate(221.2,277.5) scale(1.25,1)"><text x="0" y="0" font-size="15.8px" font-style="italic" style="stroke-width:0.05px">τ</text></g>
<g>
<line x1="0" y1="109.9" x2="15" y2="109.9" stroke="#222" stroke-width="1.35"/>
<line x1="0" y1="143.7" x2="15" y2="143.7" stroke="#222" stroke-width="1.35"/>
<path d="M1.2,116.6 Q7.6,107.7 14,116.6 Q7.6,110.3 1.2,116.6 Z" fill="#000"/>
<path d="M1.2,126.6 Q7.6,135.4 14,126.6 Q7.6,132.8 1.2,126.6 Z" fill="#000"/>
<g transform="translate(11.8,141.7) rotate(-90)"><text x="0" y="0" font-size="15.8px" font-style="italic">e</text></g>
<g transform="translate(11.8,126.2) rotate(-90) scale(1.15,1)"><text x="0" y="0" font-size="16.5px" font-style="italic" style="stroke-width:0.05px">τ</text></g>
</g>
<g stroke="#111" stroke-width="1.45" fill="none" stroke-linejoin="miter"><path d="M256.6,176.9 L202.9,176.9 M211.3,172.9 L202.9,176.9 L211.3,180.7"/></g>
</svg>
</body></html>
